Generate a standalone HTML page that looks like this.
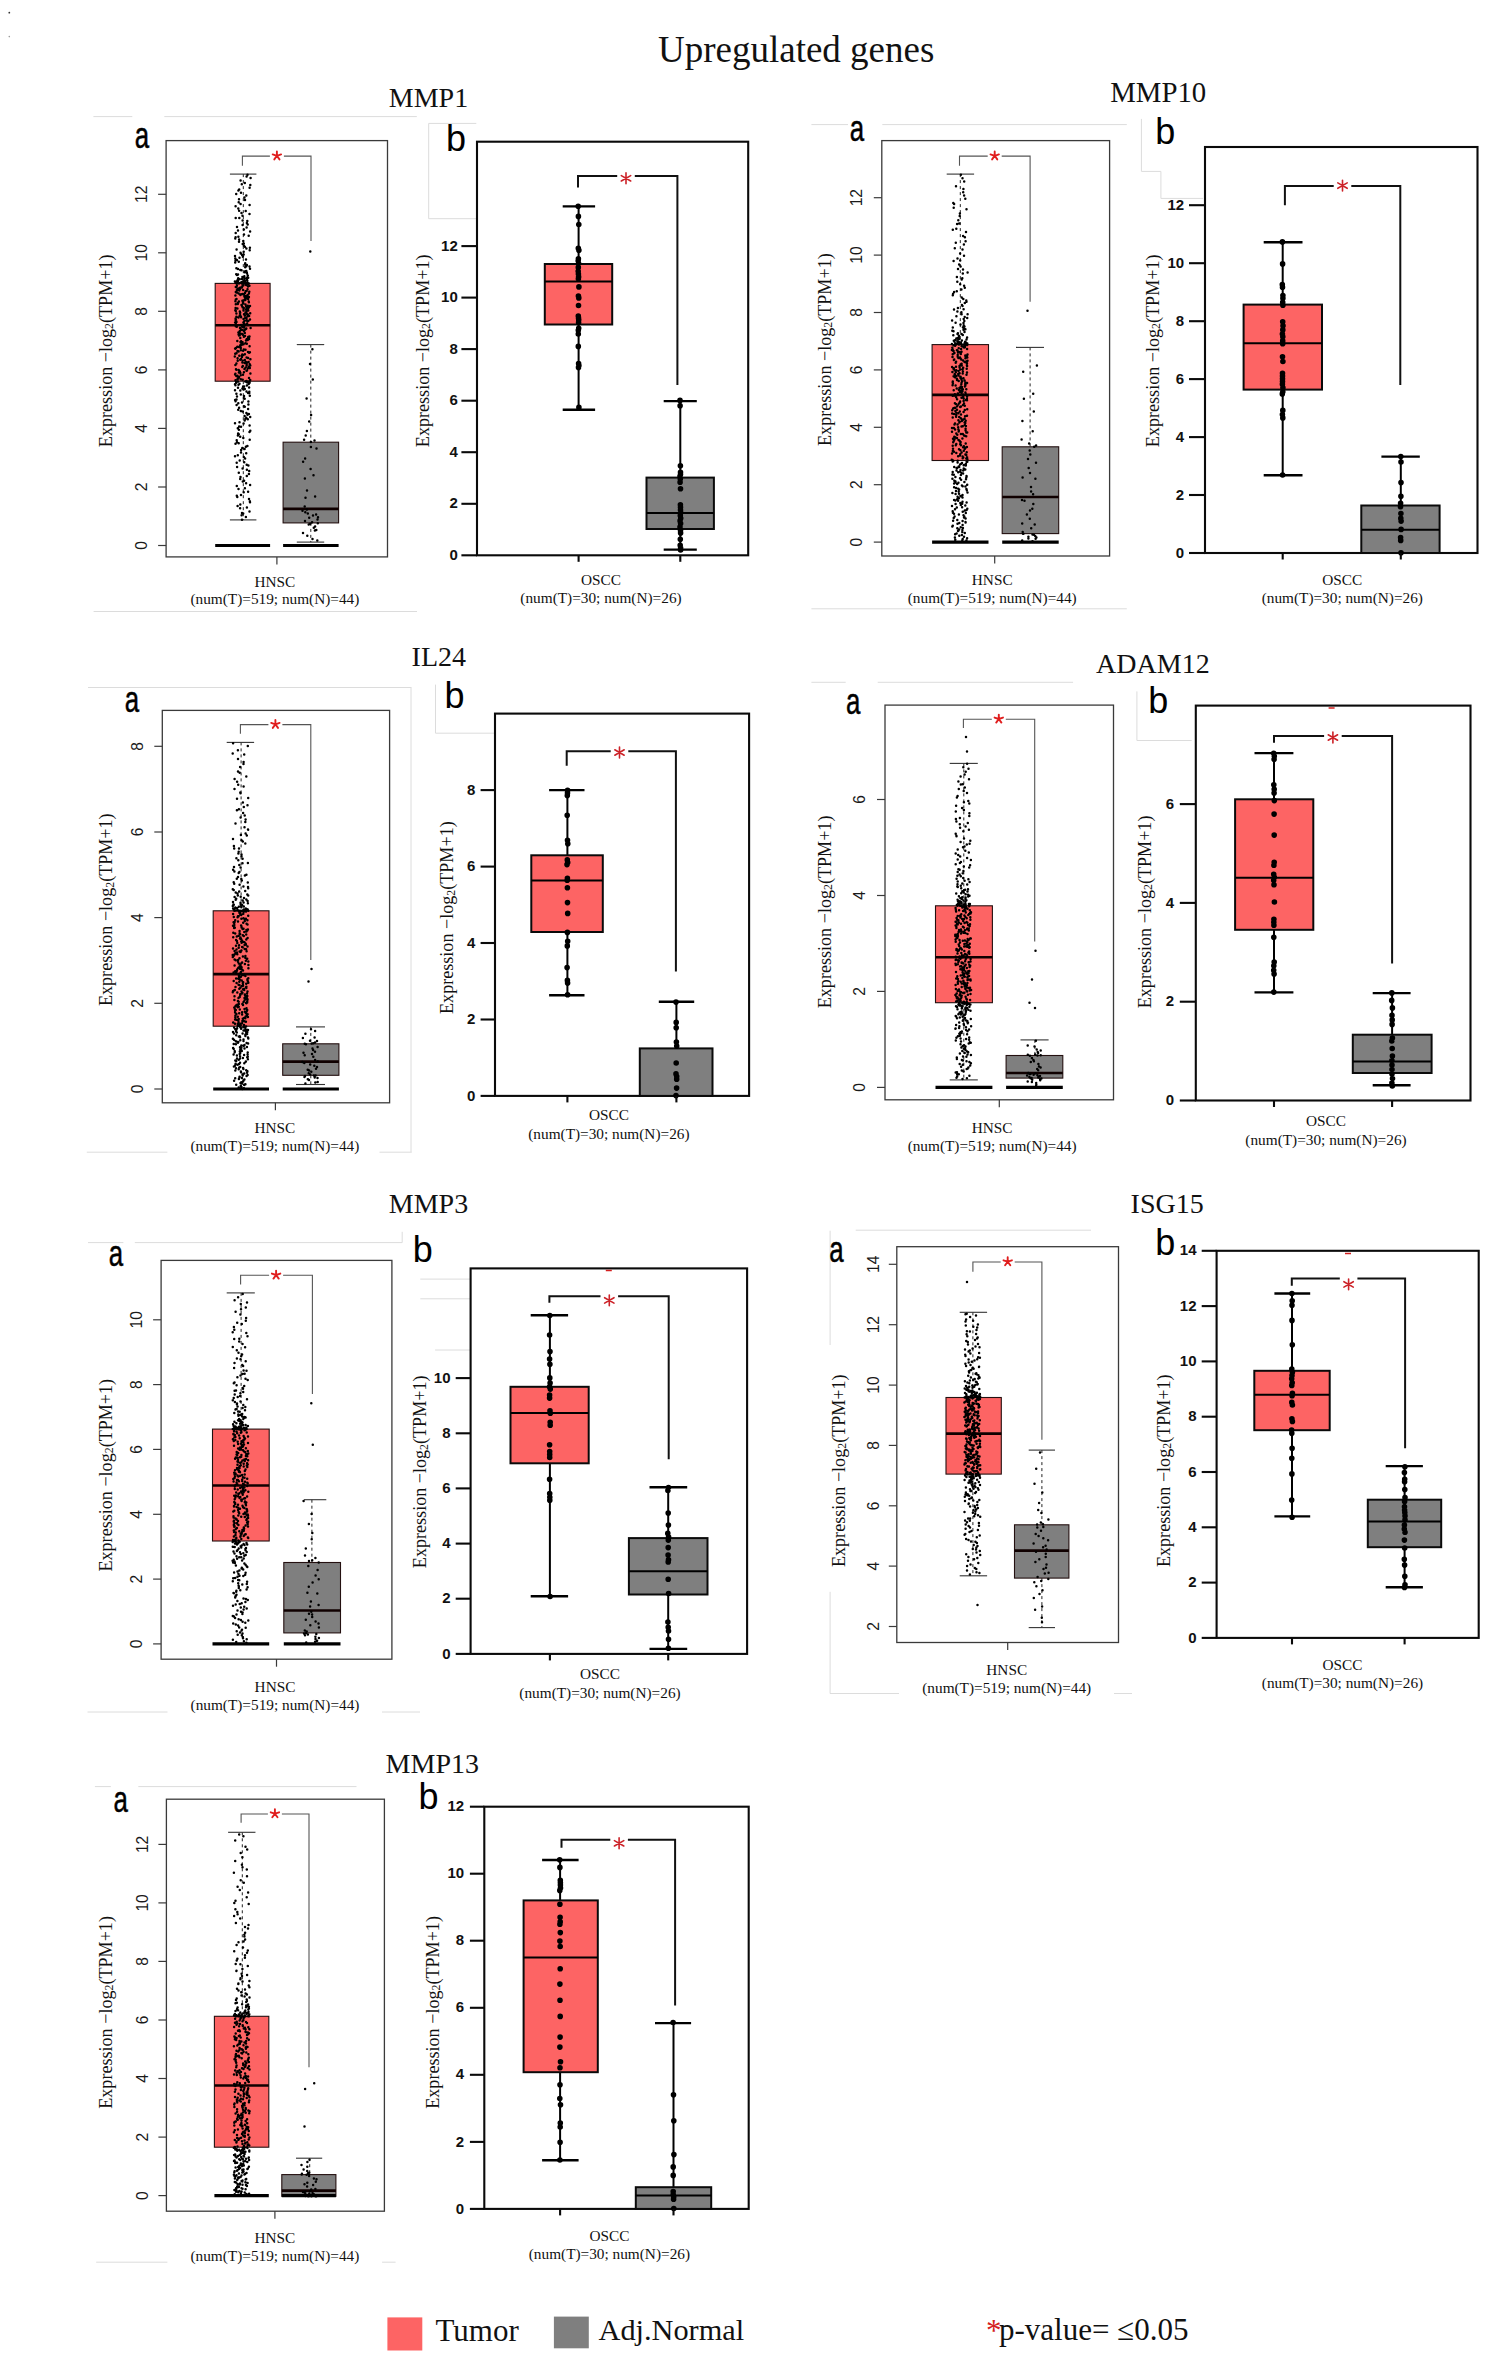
<!DOCTYPE html>
<html><head><meta charset="utf-8"><title>Upregulated genes</title>
<style>html,body{margin:0;padding:0;background:#fff;}svg{display:block;}</style></head>
<body>
<svg width="1490" height="2363" viewBox="0 0 1490 2363">
<rect width="1490" height="2363" fill="#fff"/>
<circle cx="9.3" cy="12.7" r="0.9" fill="#333"/><circle cx="9.3" cy="36.6" r="0.8" fill="#999"/>
<text x="658" y="62.1" font-family="Liberation Serif" font-size="37" text-anchor="start" font-weight="normal" fill="#111" >Upregulated genes</text>
<text x="388.8" y="107.2" font-family="Liberation Serif" font-size="28" text-anchor="start" font-weight="normal" fill="#111" >MMP1</text>
<text x="1110.2" y="102.2" font-family="Liberation Serif" font-size="28.8" text-anchor="start" font-weight="normal" fill="#111" >MMP10</text>
<text x="411.6" y="666.2" font-family="Liberation Serif" font-size="28" text-anchor="start" font-weight="normal" fill="#111" >IL24</text>
<text x="1096.1" y="673" font-family="Liberation Serif" font-size="28" text-anchor="start" font-weight="normal" fill="#111" >ADAM12</text>
<text x="388.8" y="1212.8" font-family="Liberation Serif" font-size="28" text-anchor="start" font-weight="normal" fill="#111" >MMP3</text>
<text x="1130.6" y="1213" font-family="Liberation Serif" font-size="28" text-anchor="start" font-weight="normal" fill="#111" >ISG15</text>
<text x="385.6" y="1772.8" font-family="Liberation Serif" font-size="28" text-anchor="start" font-weight="normal" fill="#111" >MMP13</text>
<line x1="93.4" y1="116.6" x2="132.3" y2="116.6" stroke="#dcdcdc" stroke-width="1"/>
<line x1="164.3" y1="116.6" x2="416.8" y2="116.6" stroke="#dcdcdc" stroke-width="1"/>
<line x1="93.6" y1="611.5" x2="417" y2="611.5" stroke="#dcdcdc" stroke-width="1"/>
<text transform="translate(134.8 148.2) scale(0.70 1)" x="0" y="0" font-family="Liberation Sans" font-size="37" fill="#000" stroke="#000" stroke-width="0.5">a</text>
<rect x="166.1" y="140.6" width="221.4" height="416.3" fill="none" stroke="#3a3a3a" stroke-width="1.3"/>
<line x1="158.1" y1="545.5" x2="166.1" y2="545.5" stroke="#3a3a3a" stroke-width="1.2" />
<text transform="translate(141.9 545.5) rotate(-90)" font-family="Liberation Sans" font-size="15.6" text-anchor="middle" dominant-baseline="central" fill="#1a1a1a">0</text>
<line x1="158.1" y1="487" x2="166.1" y2="487" stroke="#3a3a3a" stroke-width="1.2" />
<text transform="translate(141.9 487) rotate(-90)" font-family="Liberation Sans" font-size="15.6" text-anchor="middle" dominant-baseline="central" fill="#1a1a1a">2</text>
<line x1="158.1" y1="428.4" x2="166.1" y2="428.4" stroke="#3a3a3a" stroke-width="1.2" />
<text transform="translate(141.9 428.4) rotate(-90)" font-family="Liberation Sans" font-size="15.6" text-anchor="middle" dominant-baseline="central" fill="#1a1a1a">4</text>
<line x1="158.1" y1="369.9" x2="166.1" y2="369.9" stroke="#3a3a3a" stroke-width="1.2" />
<text transform="translate(141.9 369.9) rotate(-90)" font-family="Liberation Sans" font-size="15.6" text-anchor="middle" dominant-baseline="central" fill="#1a1a1a">6</text>
<line x1="158.1" y1="311.3" x2="166.1" y2="311.3" stroke="#3a3a3a" stroke-width="1.2" />
<text transform="translate(141.9 311.3) rotate(-90)" font-family="Liberation Sans" font-size="15.6" text-anchor="middle" dominant-baseline="central" fill="#1a1a1a">8</text>
<line x1="158.1" y1="252.8" x2="166.1" y2="252.8" stroke="#3a3a3a" stroke-width="1.2" />
<text transform="translate(141.9 252.8) rotate(-90)" font-family="Liberation Sans" font-size="15.6" text-anchor="middle" dominant-baseline="central" fill="#1a1a1a">10</text>
<line x1="158.1" y1="194.3" x2="166.1" y2="194.3" stroke="#3a3a3a" stroke-width="1.2" />
<text transform="translate(141.9 194.3) rotate(-90)" font-family="Liberation Sans" font-size="15.6" text-anchor="middle" dominant-baseline="central" fill="#1a1a1a">12</text>
<text transform="translate(106 350.8) rotate(-90)" font-family="Liberation Serif" font-size="18.1" text-anchor="middle" dominant-baseline="central" fill="#111">Expression −log<tspan font-size="11.8" dy="3.3">2</tspan><tspan dy="-3.3">(TPM+1)</tspan></text>
<line x1="243.3" y1="174.1" x2="243.3" y2="283.4" stroke="#222" stroke-width="1" stroke-dasharray="3 3"/>
<line x1="243.3" y1="381.2" x2="243.3" y2="519.9" stroke="#222" stroke-width="1" stroke-dasharray="3 3"/>
<line x1="229.9" y1="174.1" x2="256.4" y2="174.1" stroke="#333" stroke-width="1.1" />
<line x1="229.9" y1="519.9" x2="256.4" y2="519.9" stroke="#333" stroke-width="1.1" />
<rect x="215.2" y="283.4" width="54.9" height="97.8" fill="#fd6464" stroke="#241010" stroke-width="1.1"/>
<line x1="215.2" y1="325.2" x2="270.1" y2="325.2" stroke="#100000" stroke-width="2.6" />
<line x1="215.2" y1="545.5" x2="270.1" y2="545.5" stroke="#000" stroke-width="3.2" />
<path d="M242 519.7h0M245.9 516.9h0M241.6 515.3h0M243.2 513.5h0M242 513h0M249.5 511.4h0M240.1 508.2h0M246.9 507.6h0M237.6 506.1h0M240.3 504.5h0M250 502.2h0M249.9 501.2h0M249 499.1h0M237.3 497h0M236.8 495.7h0M241 495.1h0M243.7 492.3h0M248.1 491.7h0M238.5 489h0M244.9 488.2h0M236.8 485.9h0M250.1 484.9h0M246.1 483.3h0M242.8 481.5h0M244.1 480.8h0M240.2 478.9h0M240.5 476.9h0M246.8 476h0M248.9 474h0M238.8 472.8h0M249.2 471h0M246.9 469.8h0M242.6 468.6h0M237.1 467.1h0M248.4 465.5h0M246.7 464.8h0M236.7 462.7h0M244.2 462.2h0M239.7 460.6h0M245.1 458.6h0M243.8 457.1h0M235 456.3h0M237.8 455.2h0M246.2 453.3h0M241 452.4h0M241.1 450.1h0M244.6 449.1h0M242.3 447.9h0M245.9 446.7h0M247.4 445.9h0M235.5 443.7h0M238.7 443.3h0M237 442.2h0M236.7 440.3h0M249.7 439.7h0M243.3 438.1h0M240.2 436.8h0M237.9 435.6h0M238.8 434.3h0M238.1 433.6h0M249.5 432.1h0M250.3 430.7h0M238.9 429.8h0M237.8 428.3h0M241 426.8h0M239.1 426.5h0M249.6 425.4h0M243.6 423.5h0M235 423.2h0M239.5 422.3h0M244.7 420.6h0M247.8 419.3h0M245.4 418.8h0M246.3 417.7h0M250.2 416.9h0M244.6 416.1h0M247.5 414.7h0M248.9 413.9h0M246.4 413.1h0M242.8 411.4h0M240.8 411h0M238.2 409.7h0M248.1 409.1h0M239.1 407.8h0M244.8 406.8h0M244 406.3h0M236.6 405h0M248.4 404.4h0M238.3 403.3h0M242 402.6h0M248.4 401.5h0M235.5 401.2h0M235.1 400.1h0M236.5 399.5h0M244.7 398.8h0M243.8 398h0M237 396.6h0M244 396h0M249.8 395.7h0M240.8 394.5h0M236.4 393.7h0M248.1 393.1h0M249.3 392.9h0M249.3 391.8h0M246.5 391.4h0M240.3 390.5h0M235 390.3h0M243.5 389.5h0M244.8 389.1h0M242.4 388.6h0M238 387.7h0M249.1 387.5h0M244.1 386.5h0M243.1 386.4h0M246.9 385.5h0M235.4 385.2h0M238.5 384.8h0M235 384.2h0M248.7 384.1h0M239.5 383.7h0M248.7 383.3h0M249.6 382.8h0M236.2 382.7h0M246.9 382.3h0M249.6 382h0M236.1 381.7h0M238 381.6h0M245.3 381.4h0M246.8 381.3h0M249.2 381.2h0M246.5 381h0M235.5 380.3h0M250.2 380h0M242.7 379.8h0M240.8 379.2h0M237.6 378.9h0M238.2 378.4h0M249 377.9h0M238.9 377.2h0M239 377.2h0M237.6 376.4h0M236.3 376.1h0M237.5 375.8h0M240.7 375.2h0M243 374.7h0M235.1 374.4h0M235.4 373.8h0M250.4 373.5h0M240.4 373h0M238.9 372.5h0M243.9 372.2h0M239.4 371.7h0M239.9 371.4h0M246.5 370.8h0M247 370.6h0M238.7 370h0M236.3 369.7h0M236 369.3h0M244.5 369h0M248 368.2h0M249.8 368h0M245.7 367.6h0M242.3 367h0M248.9 366.6h0M242.8 366.1h0M246.6 365.6h0M250.3 365.4h0M235.4 364.9h0M249.7 364.3h0M246.7 364h0M236.4 363.5h0M244.7 363.1h0M242.4 362.5h0M247 362.4h0M248.6 361.9h0M245.6 361.7h0M237.7 360.8h0M242.6 360.8h0M244.8 360.1h0M240.2 359.7h0M250.4 359.2h0M241 358.9h0M237.6 358.2h0M248.1 358h0M246.6 357.4h0M241.9 357.1h0M234.8 356.5h0M241.9 356.3h0M239.3 355.7h0M241.9 355.5h0M243.2 354.9h0M242.3 354.4h0M244.9 354.2h0M235.2 353.7h0M236.5 353.3h0M249.1 352.8h0M249.9 352.3h0M248 352.1h0M238.6 351.4h0M237.5 351.1h0M243.1 350.7h0M240.9 350.3h0M245.5 349.7h0M243.8 349.5h0M235.3 348.8h0M235.1 348.4h0M240.8 348.1h0M236 347.9h0M239 347.1h0M237.4 346.8h0M249.6 346.3h0M240.6 345.8h0M240.3 345.3h0M241.5 345.1h0M240.9 344.4h0M243.4 344.3h0M246.8 343.7h0M245.4 343.2h0M241.7 342.9h0M242.6 342.3h0M240.5 341.9h0M241 341.8h0M241.1 341.2h0M237.3 340.9h0M246 340.5h0M247.7 339.9h0M246.7 339.3h0M249.1 338.9h0M247.8 338.4h0M240.3 338h0M248.9 337.5h0M248.2 337.1h0M243.9 336.7h0M249.5 336.4h0M245 336.1h0M239 335.4h0M239.7 335.3h0M242.8 334.7h0M238.6 334.4h0M242.2 334h0M240.4 333.6h0M244.8 333.1h0M238.4 332.5h0M239.3 331.9h0M239.5 331.5h0M244.1 331.2h0M240.1 330.8h0M244.6 330.3h0M242.4 329.9h0M241.2 329.6h0M246 329h0M246.3 328.4h0M240 328h0M250.6 327.9h0M244 327.4h0M236.8 326.8h0M242.2 326.7h0M235.8 326.2h0M243.5 325.5h0M244.9 325.2h0M241.1 324.9h0M245 324.6h0M243.9 324.2h0M243.8 323.9h0M247.1 323.7h0M235.9 323.1h0M243.8 322.9h0M235.1 322.5h0M243.4 322.5h0M236.5 322h0M236.3 321.6h0M247.4 321.2h0M248.3 320.9h0M244.5 320.8h0M246.7 320.5h0M235.6 320.1h0M235.8 319.6h0M250 319.4h0M243.5 319.1h0M246.5 318.7h0M235.6 318.4h0M246.3 318h0M245.3 317.8h0M238.5 317.5h0M241.1 317.3h0M236.4 316.8h0M240.9 316.6h0M247.6 316.3h0M249.1 316h0M239.7 315.5h0M244.8 315.4h0M240.1 315h0M247.9 314.4h0M244 314.2h0M246.6 313.9h0M236.4 313.5h0M250.2 313.2h0M240 312.9h0M240.2 312.8h0M245.5 312.5h0M246.4 312h0M239.8 311.6h0M246.5 311.3h0M235.8 311h0M243.5 310.6h0M248.3 310.4h0M235.3 310.2h0M246.1 309.7h0M243.6 309.4h0M247.8 309h0M246.4 308.7h0M237.4 308.4h0M235.6 308h0M243.8 307.9h0M248.8 307.5h0M242.6 307.2h0M248.1 306.9h0M246.1 306.6h0M241.9 306.1h0M250 306h0M247.8 305.7h0M241.6 305.3h0M241.5 304.9h0M245.5 304.6h0M235.8 304.2h0M237.8 304h0M243.3 303.5h0M238.1 303.1h0M243 302.9h0M237.8 302.7h0M248.9 302.3h0M243 302h0M238.9 301.5h0M248.7 301.4h0M235.4 301.2h0M242.4 300.7h0M243.8 300.3h0M245.3 300.1h0M244.7 299.8h0M235.8 299.5h0M248.1 299h0M236.5 298.9h0M246 298.4h0M248.2 298.2h0M247.8 297.7h0M247.6 297.4h0M244.9 297.3h0M248.9 297h0M244.4 296.4h0M245.7 296.2h0M245.7 295.9h0M235.4 295.4h0M247.5 295.3h0M240.4 295h0M243.8 294.5h0M241.1 294.3h0M242.8 294h0M238.7 293.5h0M248.9 293.4h0M245 293h0M236.4 292.5h0M237 292.4h0M235.8 292.1h0M249.3 291.8h0M245.6 291.2h0M246.6 291h0M239.3 290.6h0M236.8 290.3h0M243.1 290.1h0M238.1 289.7h0M237.4 289.5h0M247.5 289.2h0M240 288.9h0M237.8 288.4h0M239.9 288h0M239.8 287.9h0M241.9 287.5h0M241.4 287.2h0M235.8 287h0M248 286.4h0M242.5 286.1h0M236.9 285.7h0M249.4 285.7h0M243.4 285.2h0M246.1 284.9h0M246.5 284.6h0M247.3 284.3h0M247.9 283.9h0M236.8 283.6h0M245.4 283.4h0M241.8 283.4h0M248.8 283.4h0M239 283.4h0M237.1 283.3h0M244 283.3h0M243.2 283.2h0M236.4 283.2h0M237.1 283.1h0M242.1 283.1h0M239.4 283h0M235.6 282.9h0M247.4 282.7h0M236 282.7h0M244.4 282.5h0M245.3 282.4h0M241.3 282.3h0M236.2 282.1h0M243.7 282h0M242.8 281.8h0M236.5 281.6h0M234.9 281.4h0M244.9 281.1h0M237.9 281h0M247.3 280.7h0M237.7 280.4h0M244 280.2h0M237.7 279.8h0M247 279.7h0M239.6 279.2h0M241.9 279h0M244.7 278.8h0M238.2 278.2h0M248.2 277.8h0M246.8 277.7h0M244.2 277.1h0M242.4 276.9h0M244.3 276.2h0M247.7 275.8h0M247.8 275.5h0M237 275.1h0M238 274.6h0M236.2 274.2h0M247 273.6h0M246.8 272.9h0M246.8 272.5h0M244.5 272.2h0M245.2 271.3h0M246.3 271.1h0M241.5 270.2h0M240.3 270h0M238 269.1h0M250 268.8h0M236.4 268.3h0M245.2 267.2h0M249.5 266.4h0M246.4 266.2h0M245.4 265.5h0M246.9 264.9h0M245.1 264.1h0M245.2 263.2h0M235.2 262.5h0M238.8 261.8h0M235.5 260.5h0M236.9 259.9h0M246 259.4h0M235.3 258.4h0M239.5 257.8h0M242.9 256.7h0M235 256h0M242.1 255.1h0M243.7 254.5h0M240.8 253.6h0M240.5 252.7h0M243.7 251.8h0M249.7 250.3h0M236.6 249.6h0M246.4 248.6h0M249.9 247.7h0M244.9 246.7h0M243.9 245.8h0M242.7 244.1h0M243.8 243.5h0M239 241.7h0M243.3 240.9h0M239.1 239.5h0M235.3 238.5h0M235.6 237.2h0M238.4 236.8h0M248.7 235.7h0M244 234.6h0M235.7 232.9h0M250.1 231.5h0M238 230.5h0M243.9 229.5h0M246.6 227.4h0M237 227h0M242.6 225.1h0M247.7 224.4h0M246.9 223h0M247.3 221.1h0M242.6 220.4h0M239.3 218.1h0M235.7 217.9h0M242.5 215.7h0M249.5 214.1h0M241.5 212.9h0M245.7 210.9h0M239.1 210.7h0M238.3 208.4h0M235.6 206.3h0M249.6 204.9h0M240.6 204.1h0M238.7 202.2h0M245 200h0M239 199.2h0M244.4 197.4h0M246.3 195.6h0M236.2 193.9h0M241 192.7h0M238.4 190.4h0M239.2 189.5h0M249.6 187.8h0M250.3 185.1h0M241.8 184.3h0M244.8 183.1h0M240.6 180.6h0M250.6 178h0M246.6 176.5h0M247.5 174.7h0" stroke="#000" stroke-width="2.5" stroke-linecap="round" fill="none"/>
<line x1="310.8" y1="344.6" x2="310.8" y2="442.2" stroke="#222" stroke-width="1" stroke-dasharray="3 3"/>
<line x1="310.8" y1="522.9" x2="310.8" y2="542.1" stroke="#222" stroke-width="1" stroke-dasharray="3 3"/>
<line x1="296.8" y1="344.6" x2="324.2" y2="344.6" stroke="#333" stroke-width="1.1" />
<line x1="296.8" y1="542.1" x2="324.2" y2="542.1" stroke="#333" stroke-width="1.1" />
<rect x="283.1" y="442.2" width="55.5" height="80.7" fill="#7f7f7f" stroke="#241010" stroke-width="1.1"/>
<line x1="283.1" y1="508.9" x2="338.6" y2="508.9" stroke="#100000" stroke-width="2.6" />
<line x1="283.1" y1="545.5" x2="338.6" y2="545.5" stroke="#000" stroke-width="3.2" />
<path d="M317.3 540.5h0M312.5 538.9h0M307.3 535.7h0M303 532.9h0M314.9 530.4h0M316.3 529.9h0M313.8 527.7h0M315.1 526.6h0M308.7 524.4h0M310.3 523.8h0M317.8 523.2h0M312.1 522.3h0M305 520.9h0M317.5 519.5h0M309.2 517.8h0M318 517.2h0M313 515.5h0M316.1 514.4h0M307.8 513.6h0M305.3 512.3h0M302.5 510.7h0M306.9 509.4h0M304.7 506.4h0M305.5 497.8h0M315.1 496.5h0M307 490.5h0M304.9 478.6h0M313.5 475.3h0M310.6 469.1h0M303.1 461.8h0M305.1 458.5h0M316.5 448.4h0M310.9 447h0M310.9 441.9h0M314.5 440.5h0M304.1 439.8h0M305.7 435.6h0M306.9 431h0M309.2 421.5h0M311.1 414.9h0M306.6 398.6h0M312.8 379.6h0M310 364h0M312.4 349.3h0M310.3 251.4h0" stroke="#000" stroke-width="2.5" stroke-linecap="round" fill="none"/>
<path d="M242.4 165.7V156.1H269.9 M283.9 156.1H311V241.1" stroke="#555" stroke-width="1.1" fill="none"/>
<path d="M276.9 155.8L276.9 151.4M276.9 155.8L272.7 154.4M276.9 155.8L274.3 159.4M276.9 155.8L279.5 159.4M276.9 155.8L281.1 154.4" stroke="#e01e1e" stroke-width="1.9" stroke-linecap="round" fill="none"/>
<line x1="276.9" y1="556.9" x2="276.9" y2="564.4" stroke="#3a3a3a" stroke-width="1.2" />
<text x="274.9" y="586.5" font-family="Liberation Serif" font-size="15.3" text-anchor="middle" font-weight="normal" fill="#111" >HNSC</text><text x="274.9" y="604.4" font-family="Liberation Serif" font-size="15.3" text-anchor="middle" font-weight="normal" fill="#111" >(num(T)=519; num(N)=44)</text>
<line x1="811.4" y1="124.6" x2="848" y2="124.6" stroke="#dcdcdc" stroke-width="1"/>
<line x1="882.3" y1="124.6" x2="1126.8" y2="124.6" stroke="#dcdcdc" stroke-width="1"/>
<line x1="811.4" y1="608.8" x2="1126.8" y2="608.8" stroke="#dcdcdc" stroke-width="1"/>
<text transform="translate(849.8 141.4) scale(0.70 1)" x="0" y="0" font-family="Liberation Sans" font-size="37" fill="#000" stroke="#000" stroke-width="0.5">a</text>
<rect x="881.8" y="140.6" width="227.8" height="415.4" fill="none" stroke="#3a3a3a" stroke-width="1.3"/>
<line x1="873.8" y1="542.1" x2="881.8" y2="542.1" stroke="#3a3a3a" stroke-width="1.2" />
<text transform="translate(856.5 542.1) rotate(-90)" font-family="Liberation Sans" font-size="15.6" text-anchor="middle" dominant-baseline="central" fill="#1a1a1a">0</text>
<line x1="873.8" y1="484.7" x2="881.8" y2="484.7" stroke="#3a3a3a" stroke-width="1.2" />
<text transform="translate(856.5 484.7) rotate(-90)" font-family="Liberation Sans" font-size="15.6" text-anchor="middle" dominant-baseline="central" fill="#1a1a1a">2</text>
<line x1="873.8" y1="427.3" x2="881.8" y2="427.3" stroke="#3a3a3a" stroke-width="1.2" />
<text transform="translate(856.5 427.3) rotate(-90)" font-family="Liberation Sans" font-size="15.6" text-anchor="middle" dominant-baseline="central" fill="#1a1a1a">4</text>
<line x1="873.8" y1="369.9" x2="881.8" y2="369.9" stroke="#3a3a3a" stroke-width="1.2" />
<text transform="translate(856.5 369.9) rotate(-90)" font-family="Liberation Sans" font-size="15.6" text-anchor="middle" dominant-baseline="central" fill="#1a1a1a">6</text>
<line x1="873.8" y1="312.5" x2="881.8" y2="312.5" stroke="#3a3a3a" stroke-width="1.2" />
<text transform="translate(856.5 312.5) rotate(-90)" font-family="Liberation Sans" font-size="15.6" text-anchor="middle" dominant-baseline="central" fill="#1a1a1a">8</text>
<line x1="873.8" y1="255.1" x2="881.8" y2="255.1" stroke="#3a3a3a" stroke-width="1.2" />
<text transform="translate(856.5 255.1) rotate(-90)" font-family="Liberation Sans" font-size="15.6" text-anchor="middle" dominant-baseline="central" fill="#1a1a1a">10</text>
<line x1="873.8" y1="197.7" x2="881.8" y2="197.7" stroke="#3a3a3a" stroke-width="1.2" />
<text transform="translate(856.5 197.7) rotate(-90)" font-family="Liberation Sans" font-size="15.6" text-anchor="middle" dominant-baseline="central" fill="#1a1a1a">12</text>
<text transform="translate(825.1 349.6) rotate(-90)" font-family="Liberation Serif" font-size="18.1" text-anchor="middle" dominant-baseline="central" fill="#111">Expression −log<tspan font-size="11.8" dy="3.3">2</tspan><tspan dy="-3.3">(TPM+1)</tspan></text>
<line x1="960.3" y1="174.1" x2="960.3" y2="344.6" stroke="#222" stroke-width="1" stroke-dasharray="3 3"/>
<line x1="946.7" y1="174.1" x2="974.1" y2="174.1" stroke="#333" stroke-width="1.1" />
<rect x="932.1" y="344.6" width="56.4" height="115.9" fill="#fd6464" stroke="#241010" stroke-width="1.1"/>
<line x1="932.1" y1="394.9" x2="988.5" y2="394.9" stroke="#100000" stroke-width="2.6" />
<line x1="932.1" y1="542.1" x2="988.5" y2="542.1" stroke="#000" stroke-width="3.2" />
<path d="M954.9 541.7h0M966.4 540.6h0M962.3 540.2h0M955.3 539.7h0M962.7 538.9h0M967.1 538.2h0M954.9 537.5h0M964 536.8h0M959.3 535.8h0M961.9 535.1h0M955.1 534.3h0M956.6 533.6h0M964.8 533h0M962.3 531.9h0M958 531h0M958.5 530.6h0M962.4 529.9h0M959.1 529.4h0M957.3 528.3h0M962.9 528h0M960.7 527.2h0M952.3 526.4h0M952.8 525.7h0M962.6 525h0M957.5 523.8h0M959.3 523.1h0M965.6 522.5h0M965.5 521.9h0M962.6 521h0M953.1 520.7h0M957.3 520h0M965.6 518.6h0M953.7 518h0M964 517.4h0M964.3 516.6h0M954.6 516.4h0M963.5 515.2h0M958.9 514.4h0M954 513.7h0M965.8 513h0M952.9 512.7h0M962.7 511.8h0M952.7 511.3h0M964.8 510.6h0M966.6 510.1h0M955 509.3h0M967.3 508.7h0M956.8 507.4h0M962.1 507.3h0M952 506.1h0M965.3 505.6h0M960.8 505h0M955.6 504.1h0M962.2 503.8h0M960.3 502.9h0M966.6 502.4h0M962.5 501.7h0M958.1 500.7h0M955.3 500.5h0M954.1 499.9h0M957.2 499.2h0M958.9 498.3h0M962.5 497.5h0M957.6 496.8h0M960.5 496.2h0M960.4 495.9h0M962.5 495.1h0M955.6 494.1h0M959 493.7h0M952.4 493.1h0M967.5 492.6h0M958.7 491.6h0M956 491h0M966.8 490.3h0M959.1 489.6h0M966.4 488.9h0M958.3 488.8h0M956.1 487.9h0M954.1 487.2h0M965.4 486.5h0M962.7 486.3h0M961.9 485.5h0M967.2 484.7h0M957.2 484h0M954.1 483.4h0M958.4 482.8h0M955.6 482.5h0M964.4 481.9h0M955.5 481.4h0M954.3 480.7h0M961.1 479.8h0M966 479.2h0M952.4 478.8h0M960 478.3h0M966.3 477.5h0M955.4 477h0M966.6 476.4h0M966.5 475.9h0M960.9 475.1h0M953.8 474.7h0M952.4 474.4h0M963.1 473.5h0M961.3 472.8h0M958.2 472.2h0M952.7 472.1h0M960.2 471.5h0M956.5 470.6h0M963.2 470.5h0M960.6 469.9h0M965.3 469.5h0M963.7 468.6h0M957.1 468h0M956.6 468h0M959.2 467h0M954.2 466.9h0M958.7 466.4h0M965.8 465.6h0M963.7 465.2h0M964.1 465h0M960.1 464.5h0M965.9 464.1h0M961.2 463.7h0M962 463h0M957.6 462.6h0M966.6 462.1h0M967.3 461.8h0M952.7 461.4h0M953.2 461.1h0M957.7 460.8h0M952.5 460.4h0M952.5 459.9h0M951.8 459.8h0M967.4 459.3h0M966.3 458.4h0M962.7 458.3h0M963.3 457.4h0M967.1 457.2h0M962.6 456.5h0M958.1 456.2h0M960 455.4h0M966.3 455.1h0M965.4 454.6h0M960.2 454.3h0M952 453.4h0M956.3 452.9h0M961.6 452.5h0M966.7 452.2h0M954 451.7h0M952.8 451h0M963.8 450.7h0M960.4 450.2h0M959 449.3h0M964.9 448.8h0M953 448.7h0M965.5 447.8h0M963.1 447.3h0M966.9 447h0M963.9 446.3h0M952.7 445.8h0M961 445.3h0M955.8 445.2h0M960.2 444.3h0M956.3 443.9h0M965.7 443.4h0M960.5 442.7h0M953.2 442.3h0M960.6 442.1h0M953.7 441.2h0M959.7 441.1h0M954 440.5h0M958.5 440.1h0M954.5 439.2h0M953 438.7h0M962.4 438.5h0M956.9 438.1h0M955.4 437.5h0M954.3 436.7h0M966.2 436.2h0M965.4 436h0M964 435.4h0M957.3 434.8h0M962.8 434.1h0M960.9 433.9h0M956.3 433.4h0M967.2 432.6h0M966.3 432.5h0M952 431.7h0M958.7 431.5h0M965.6 430.6h0M958.8 430.4h0M955.1 429.6h0M958.4 429.5h0M965.6 428.7h0M952 428.1h0M953.8 427.9h0M958.2 427.2h0M961.5 426.5h0M962.7 426.2h0M965.9 425.9h0M964.8 425.1h0M954.5 424.6h0M957.6 424.4h0M955 423.6h0M965.3 423h0M959.4 422.6h0M964.6 422.4h0M959.6 421.9h0M961.8 421.1h0M965.7 420.8h0M958.4 420.3h0M962.9 419.7h0M961.9 419.4h0M964.5 418.7h0M960.8 418.2h0M952.7 417.4h0M959.2 417h0M956.1 416.7h0M965.1 416.3h0M967 415.8h0M956.3 415.1h0M961 414.5h0M954.1 413.9h0M952.2 413.5h0M958.4 413.3h0M956.3 412.7h0M963.6 412.1h0M959.8 411.6h0M955.4 410.9h0M952.2 410.3h0M964.8 410.1h0M957 409.7h0M967.2 409.2h0M953.1 408.4h0M954.2 408h0M955.3 407.8h0M960.2 406.9h0M961 406.6h0M957.2 406.2h0M964.8 405.7h0M963.1 405.1h0M958.4 404.6h0M955.9 404h0M964 403.5h0M954.9 403.2h0M959.5 402.7h0M960 402.2h0M960.1 401.6h0M963.6 401.1h0M967 400.3h0M965.9 400h0M957.1 399.3h0M966.9 398.7h0M963.7 398.6h0M961.5 397.8h0M956.2 397.3h0M963.2 396.8h0M967.1 396.6h0M952.7 395.8h0M954.5 395.6h0M963.2 394.8h0M965.8 394.3h0M954.9 394.2h0M958 393.9h0M957.8 393.4h0M961.5 392.8h0M965.4 392.5h0M959.9 392.1h0M960.3 391.8h0M962.4 391.4h0M962.5 390.9h0M960.7 390.7h0M953.7 390.3h0M958.9 390h0M962.9 389.3h0M966.3 389.3h0M961.3 388.6h0M956.7 388.5h0M959.4 388h0M961.8 387.7h0M961.9 387.1h0M960.6 386.8h0M964.9 386.5h0M965.3 385.8h0M955.6 385.5h0M952.6 385.3h0M965.4 384.7h0M961.3 384.3h0M965.2 383.9h0M952.9 383.8h0M967.1 383.1h0M961.6 382.8h0M965.4 382.5h0M952.7 382.2h0M952.8 381.6h0M962.1 381.2h0M958.7 381.1h0M964.6 380.6h0M957 380.1h0M957.2 379.9h0M961.4 379.4h0M956.9 378.8h0M961.7 378.8h0M963.5 378.3h0M960.4 377.8h0M954.9 377.3h0M954.7 377h0M960.6 376.7h0M953.6 376.3h0M956.2 375.9h0M958.5 375.6h0M955.1 375.2h0M966.5 374.7h0M954.6 374.2h0M958.2 374.1h0M962.7 373.5h0M959.6 373.2h0M967 372.6h0M955.8 372.3h0M952.4 371.9h0M962.9 371.5h0M958.5 371.1h0M955.8 370.8h0M954.6 370.3h0M956.2 370.3h0M960.3 369.6h0M962.6 369.2h0M966.7 368.8h0M953.5 368.7h0M953.9 368.2h0M963.2 367.7h0M959.6 367.5h0M952.1 367.1h0M956 366.7h0M967.1 366.1h0M959.5 366h0M961.7 365.5h0M966.9 365.2h0M960.9 364.7h0M960.7 364.3h0M961.6 363.7h0M966.8 363.6h0M967 363.2h0M955.7 362.7h0M965.5 362.1h0M964.6 361.9h0M956.1 361.7h0M966.7 361.2h0M967.5 360.8h0M963.1 360.4h0M953.9 359.9h0M961.2 359.5h0M954.2 359.4h0M960.7 358.7h0M965.4 358.3h0M958.4 358.1h0M967.3 357.6h0M960 357.4h0M952.5 357.1h0M957.7 356.7h0M965.4 356.1h0M967 355.6h0M965.3 355.5h0M957.7 355h0M967.5 354.6h0M952.7 354.2h0M960.8 353.9h0M954.2 353.3h0M954.4 353.1h0M958 352.6h0M959.8 352.3h0M961.5 351.8h0M958.2 351.4h0M953.6 350.9h0M953.3 350.9h0M956.9 350.3h0M951.9 350h0M952.7 349.4h0M967.1 349.1h0M961.1 348.9h0M958.7 348.2h0M952.3 347.8h0M964.1 347.6h0M964.9 347.2h0M965 346.6h0M962.7 346.4h0M961.6 345.9h0M955.1 345.8h0M953.6 345.2h0M967.2 345h0M967.4 344.6h0M964.2 344.6h0M955.5 344.6h0M955.3 344.6h0M961.4 344.6h0M959 344.6h0M965.7 344.5h0M965 344.5h0M966.6 344.5h0M956.1 344.4h0M955.9 344.4h0M966.9 344.3h0M954.9 344.2h0M961.7 344.2h0M951.9 344.1h0M964.4 344h0M957.1 343.8h0M967.3 343.6h0M955.4 343.6h0M957.2 343.4h0M964.5 343.3h0M959.6 343h0M960.9 342.8h0M959.9 342.6h0M966 342.4h0M959.3 342.2h0M965.1 341.8h0M954.3 341.6h0M957.6 341.5h0M957.4 341.2h0M953.8 340.8h0M961.9 340.5h0M955.3 339.9h0M958.3 339.6h0M966.5 339.5h0M959.4 339h0M956.3 338.6h0M957.8 338h0M967.1 337.5h0M958.9 336.9h0M959 336.3h0M958.9 335.8h0M953.3 335.2h0M962.8 335h0M957.5 334.1h0M961.5 333.9h0M957.9 333.2h0M964.5 332.1h0M953.5 331.3h0M952.3 330.7h0M963.5 329.8h0M965.4 329.2h0M963.8 328.3h0M952.8 327.4h0M962.9 327.3h0M964.5 326.4h0M963.7 325.3h0M960.5 324.6h0M963.5 323.1h0M955.6 322.7h0M964.3 321h0M952.1 320.4h0M963.7 319.1h0M967.2 318.1h0M964.7 317h0M956.4 316.3h0M967.6 314.3h0M961.6 314.2h0M961.4 312.3h0M957.4 311.4h0M954 309.5h0M963.6 309.3h0M957.9 308h0M962.5 306h0M961.9 305h0M964.8 303h0M966.5 301.8h0M966.3 300.4h0M963.3 299h0M961.7 297.6h0M952.8 295.3h0M953.1 293.7h0M954.1 292h0M956.8 291.3h0M961.4 289.5h0M964.8 287.7h0M964.1 285.8h0M960.2 284.2h0M957.3 281.8h0M961.7 279.6h0M962.3 278.2h0M956.9 276.9h0M962.8 273.6h0M967.6 272.4h0M963 269.4h0M958 269.1h0M960.6 266.4h0M959.1 264.5h0M953.6 261h0M960.2 260.6h0M957.5 258.5h0M964 255.7h0M960.1 253.6h0M962.5 249.6h0M954.8 248.3h0M963.9 244.6h0M955.8 242.7h0M965.6 241.3h0M964.9 237.3h0M963.1 236.1h0M966 232.1h0M952.8 229.7h0M956.3 228.8h0M957.1 224.1h0M959.2 223.4h0M958.3 220.3h0M959.7 215.9h0M959.9 213.5h0M966.5 209.3h0M953.7 207.7h0M954.1 204.1h0M953.3 203.1h0M965.3 198.7h0M964.1 195.4h0M963.2 192.2h0M963.4 189h0M956 186.3h0M964.2 181.5h0M962.5 178.2h0M960.9 174.8h0" stroke="#000" stroke-width="2.5" stroke-linecap="round" fill="none"/>
<line x1="1030.1" y1="347.4" x2="1030.1" y2="446.8" stroke="#222" stroke-width="1" stroke-dasharray="3 3"/>
<line x1="1016" y1="347.4" x2="1044" y2="347.4" stroke="#333" stroke-width="1.1" />
<rect x="1002.2" y="446.8" width="56.5" height="86.8" fill="#7f7f7f" stroke="#241010" stroke-width="1.1"/>
<line x1="1002.2" y1="497" x2="1058.7" y2="497" stroke="#100000" stroke-width="2.6" />
<line x1="1002.2" y1="542.1" x2="1058.7" y2="542.1" stroke="#000" stroke-width="3.2" />
<path d="M1032.5 541.3h0M1022.2 540.4h0M1035.6 538.8h0M1028.4 538.4h0M1036.4 537.6h0M1028.4 536.8h0M1035.2 536h0M1033.8 534.8h0M1032.5 534.4h0M1023 533.8h0M1023.4 533.7h0M1022.7 532h0M1031.2 528.2h0M1034.7 524.6h0M1022.2 523.4h0M1029.8 518.8h0M1026.9 514.6h0M1030 510.5h0M1032.3 508.7h0M1033.3 504h0M1024.5 500.7h0M1022 500h0M1033.1 494.3h0M1031.1 491.5h0M1031 486.9h0M1035.4 478.8h0M1022.6 477.5h0M1030 473.1h0M1028.7 468.1h0M1036 462.7h0M1028 458.9h0M1030.3 454.5h0M1029.7 450.6h0M1034.2 446.7h0M1036.1 445.5h0M1029.1 443.5h0M1021.6 439.5h0M1032.7 431.3h0M1022.4 420.9h0M1033.8 411.6h0M1023.9 398.8h0M1033.2 393.8h0M1023.2 371.8h0M1036.9 365.5h0M1027.5 310.8h0" stroke="#000" stroke-width="2.5" stroke-linecap="round" fill="none"/>
<path d="M959.5 165.7V156.1H987.7 M1001.7 156.1H1030.1V301.7" stroke="#555" stroke-width="1.1" fill="none"/>
<path d="M994.7 155.8L994.7 151.4M994.7 155.8L990.5 154.4M994.7 155.8L992.1 159.4M994.7 155.8L997.3 159.4M994.7 155.8L998.9 154.4" stroke="#e01e1e" stroke-width="1.9" stroke-linecap="round" fill="none"/>
<line x1="994.7" y1="556" x2="994.7" y2="563.5" stroke="#3a3a3a" stroke-width="1.2" />
<text x="992.2" y="585" font-family="Liberation Serif" font-size="15.3" text-anchor="middle" font-weight="normal" fill="#111" >HNSC</text><text x="992.2" y="602.5" font-family="Liberation Serif" font-size="15.3" text-anchor="middle" font-weight="normal" fill="#111" >(num(T)=519; num(N)=44)</text>
<line x1="88" y1="687.5" x2="411.4" y2="687.5" stroke="#dcdcdc" stroke-width="1"/>
<line x1="411" y1="687.5" x2="411" y2="1152.2" stroke="#dcdcdc" stroke-width="1"/>
<line x1="86.8" y1="1152.2" x2="167.4" y2="1152.2" stroke="#dcdcdc" stroke-width="1"/>
<line x1="379.5" y1="1152.2" x2="411.7" y2="1152.2" stroke="#dcdcdc" stroke-width="1"/>
<text transform="translate(124.8 711.6) scale(0.70 1)" x="0" y="0" font-family="Liberation Sans" font-size="37" fill="#000" stroke="#000" stroke-width="0.5">a</text>
<rect x="162.3" y="710.4" width="227.3" height="392.4" fill="none" stroke="#3a3a3a" stroke-width="1.3"/>
<line x1="154.3" y1="1089" x2="162.3" y2="1089" stroke="#3a3a3a" stroke-width="1.2" />
<text transform="translate(137.6 1089) rotate(-90)" font-family="Liberation Sans" font-size="15.6" text-anchor="middle" dominant-baseline="central" fill="#1a1a1a">0</text>
<line x1="154.3" y1="1003.3" x2="162.3" y2="1003.3" stroke="#3a3a3a" stroke-width="1.2" />
<text transform="translate(137.6 1003.3) rotate(-90)" font-family="Liberation Sans" font-size="15.6" text-anchor="middle" dominant-baseline="central" fill="#1a1a1a">2</text>
<line x1="154.3" y1="917.6" x2="162.3" y2="917.6" stroke="#3a3a3a" stroke-width="1.2" />
<text transform="translate(137.6 917.6) rotate(-90)" font-family="Liberation Sans" font-size="15.6" text-anchor="middle" dominant-baseline="central" fill="#1a1a1a">4</text>
<line x1="154.3" y1="832" x2="162.3" y2="832" stroke="#3a3a3a" stroke-width="1.2" />
<text transform="translate(137.6 832) rotate(-90)" font-family="Liberation Sans" font-size="15.6" text-anchor="middle" dominant-baseline="central" fill="#1a1a1a">6</text>
<line x1="154.3" y1="746.3" x2="162.3" y2="746.3" stroke="#3a3a3a" stroke-width="1.2" />
<text transform="translate(137.6 746.3) rotate(-90)" font-family="Liberation Sans" font-size="15.6" text-anchor="middle" dominant-baseline="central" fill="#1a1a1a">8</text>
<text transform="translate(106.3 909.7) rotate(-90)" font-family="Liberation Serif" font-size="18.1" text-anchor="middle" dominant-baseline="central" fill="#111">Expression −log<tspan font-size="11.8" dy="3.3">2</tspan><tspan dy="-3.3">(TPM+1)</tspan></text>
<line x1="241.1" y1="742.4" x2="241.1" y2="910.8" stroke="#222" stroke-width="1" stroke-dasharray="3 3"/>
<line x1="226.7" y1="742.4" x2="254.1" y2="742.4" stroke="#333" stroke-width="1.1" />
<rect x="213.2" y="910.8" width="55.8" height="115.4" fill="#fd6464" stroke="#241010" stroke-width="1.1"/>
<line x1="213.2" y1="974.1" x2="269" y2="974.1" stroke="#100000" stroke-width="2.6" />
<line x1="213.2" y1="1089" x2="269" y2="1089" stroke="#000" stroke-width="3.2" />
<path d="M242.3 1088.9h0M243.9 1088.3h0M238.7 1087.5h0M241.5 1086.9h0M241 1086.7h0M240.8 1085.8h0M244.2 1085h0M236.2 1084.7h0M245.4 1084.3h0M242.2 1083.4h0M240.5 1083h0M241 1082.5h0M242.4 1082h0M243.2 1081.2h0M234.1 1080.8h0M243.5 1080.2h0M244.4 1079.5h0M238.9 1079h0M235.2 1078.2h0M241.9 1078h0M239.4 1077.2h0M239.6 1076.7h0M246.6 1076.1h0M242.7 1075.4h0M247.6 1075.1h0M242.5 1074.5h0M243.4 1073.7h0M244.3 1073.4h0M247.1 1072.8h0M241 1072.2h0M240.9 1071.5h0M247.4 1071.2h0M235.3 1070.4h0M246.2 1070.3h0M238.7 1069.3h0M243.4 1069.1h0M236 1068.2h0M243.1 1067.9h0M239.2 1067.5h0M240.2 1067h0M233.9 1066.4h0M235 1065.8h0M235 1065.4h0M237.6 1064.7h0M239.1 1064h0M235.6 1063.7h0M244.3 1063.2h0M240 1062.7h0M245.7 1061.8h0M245.9 1061.5h0M236.2 1060.9h0M235.3 1060.6h0M238.8 1059.8h0M247.9 1059.2h0M240 1058.6h0M237 1058.6h0M242.9 1058h0M247.2 1057.2h0M247.8 1056.7h0M240.1 1056.2h0M236.9 1055.6h0M244.1 1055.1h0M233.6 1054.6h0M247.6 1054.4h0M239.7 1053.9h0M240.2 1053.2h0M247.7 1052.5h0M234.7 1052.3h0M239.8 1051.5h0M234.8 1051.3h0M241.8 1051h0M241.4 1050.3h0M240.3 1049.5h0M233.7 1049h0M244.5 1048.6h0M233.1 1048h0M241.4 1047.8h0M240 1047.2h0M246.9 1046.9h0M243.7 1046.1h0M241.3 1045.6h0M243.6 1045.6h0M244.5 1045.1h0M235.9 1044.3h0M233.7 1044.1h0M248.1 1043.6h0M246.6 1043.1h0M238 1042.7h0M238.3 1042.1h0M236.4 1041.4h0M235.8 1041.2h0M243.5 1040.9h0M240.3 1040.3h0M234 1039.7h0M243.5 1039.5h0M232.9 1038.7h0M248.3 1038.5h0M248.2 1037.9h0M248 1037.6h0M240.1 1037.3h0M238.8 1036.6h0M239.7 1036.3h0M245.4 1035.9h0M236.2 1035.2h0M245.3 1035.1h0M245.5 1034.5h0M247.1 1034.1h0M242.6 1033.6h0M233.9 1033.5h0M246.2 1032.8h0M236.8 1032.4h0M247.3 1032.1h0M233 1031.9h0M236.1 1031.5h0M245.6 1030.9h0M243.5 1030.5h0M248 1030.1h0M247.2 1029.9h0M236.5 1029.5h0M235.3 1029.2h0M245.4 1028.9h0M241.1 1028.7h0M237.1 1028.2h0M240.9 1028h0M234.1 1027.6h0M243.3 1027.3h0M245 1027.1h0M240 1026.8h0M246.1 1026.5h0M244.2 1026.1h0M237.7 1026h0M240.7 1025.4h0M244 1025h0M238.7 1024.8h0M237.8 1024.1h0M235 1023.8h0M240.5 1023.7h0M242 1023.2h0M233.2 1022.6h0M238.5 1022.3h0M245.9 1021.7h0M244.3 1021.3h0M242.4 1021.1h0M238.4 1020.7h0M242.9 1020.4h0M236.4 1019.7h0M235.1 1019.5h0M238.7 1019.1h0M242.8 1018.8h0M245.3 1018.3h0M244.2 1018h0M235.3 1017.3h0M247.9 1017.1h0M237.8 1016.7h0M245.7 1016.4h0M246.5 1015.9h0M235.4 1015.4h0M246.8 1014.9h0M242.1 1014.6h0M247.6 1014.2h0M236.4 1014h0M239.2 1013.3h0M245.8 1012.9h0M235.1 1012.6h0M242.1 1012.2h0M244.9 1011.8h0M246.7 1011.5h0M235.1 1011h0M235.3 1010.5h0M247.2 1010.1h0M235.8 1010h0M239.8 1009.4h0M244.5 1009.1h0M234.7 1008.7h0M246.5 1008.2h0M234.3 1007.6h0M237.7 1007.3h0M238.8 1006.8h0M237.8 1006.8h0M235.4 1006.2h0M237.8 1005.7h0M236.3 1005.3h0M243 1005h0M237.2 1004.7h0M238.8 1004.1h0M242.4 1003.9h0M246.3 1003.3h0M246.1 1003h0M247.2 1002.5h0M243.6 1002h0M238.7 1001.7h0M247.2 1001.6h0M237.9 1001h0M244.5 1000.6h0M234.4 1000.1h0M247.5 999.7h0M247.5 999.2h0M246.6 999h0M246 998.6h0M238.5 998h0M244.5 997.9h0M246.9 997.2h0M239.7 997h0M246.1 996.7h0M234.5 996.3h0M247.3 995.9h0M245.1 995.4h0M240.2 995.2h0M244.8 994.5h0M240.2 994.3h0M247 993.6h0M241.9 993.5h0M242.4 992.8h0M237.3 992.5h0M232.8 992.2h0M241.5 991.6h0M247.5 991.5h0M233.1 991.1h0M233.9 990.5h0M234.8 990.1h0M244.2 990h0M243 989.3h0M243.9 988.9h0M239.3 988.7h0M246.3 988.1h0M240.3 987.7h0M245.9 987.2h0M235.5 987h0M246.4 986.7h0M241.7 986.3h0M243 985.7h0M243 985.2h0M239.4 985.1h0M238.6 984.7h0M242.9 984h0M246.2 983.7h0M236.6 983.1h0M242.8 982.9h0M248.3 982.7h0M243.2 982.2h0M239.3 981.8h0M247.9 981.5h0M233.7 981.1h0M241.7 980.4h0M247.5 980.2h0M239.7 979.6h0M247.4 979.2h0M238.4 978.8h0M236.1 978.4h0M248.3 978.2h0M238.9 977.6h0M239.5 977.3h0M240.9 976.8h0M239.2 976.5h0M245.4 976h0M238.9 975.8h0M244.1 975.1h0M242.5 974.9h0M241.6 974.6h0M239.6 974h0M239.4 973.7h0M236.1 973.1h0M233.6 972.5h0M240.9 972h0M236.6 971.8h0M235.2 971.3h0M237 970.4h0M243 970.4h0M237.1 969.5h0M241.8 969.4h0M239.9 968.8h0M248.4 968.2h0M238.3 967.8h0M241.6 967.2h0M239.5 966.6h0M240.7 966.2h0M240.3 965.8h0M234.6 965.5h0M248.4 964.9h0M240.5 964.3h0M244.9 963.9h0M238.8 963.4h0M241.6 963h0M242.1 962.4h0M238 961.7h0M248.3 961.4h0M245.9 960.8h0M235.7 960.3h0M238.1 959.9h0M234.6 959.5h0M247.2 958.8h0M239.5 958.3h0M245.3 957.8h0M245.3 957.5h0M232.8 956.9h0M242.9 956.5h0M245.4 956.1h0M234 955.4h0M232.7 955.1h0M234.4 954.6h0M237.3 954.3h0M235.4 953.5h0M235.5 952.9h0M236.9 952.5h0M240.6 952h0M239.6 951.5h0M246.6 951.3h0M234.6 950.9h0M241.4 950.4h0M236.5 949.6h0M246.1 949.2h0M244.7 949h0M233 948.4h0M238.7 947.8h0M242.7 947.3h0M242.1 947h0M247.5 946.5h0M236 945.8h0M239.1 945.3h0M244.6 945h0M245.9 944.4h0M245.7 943.7h0M237.3 943.1h0M241.6 942.8h0M244.4 942.3h0M242.9 941.8h0M241.2 941.4h0M236.9 941.1h0M242 940.6h0M236.1 939.9h0M246.3 939.5h0M241.1 939.1h0M240 938.5h0M247.6 938.1h0M240.5 937.5h0M233.2 937.2h0M236.8 936.5h0M243.8 936h0M238.6 935.8h0M242.9 935.2h0M246.2 934.6h0M240.2 934.3h0M235.2 933.5h0M239.6 933.3h0M233.3 932.8h0M244.3 932h0M246.4 931.6h0M239.6 931.1h0M247.3 930.6h0M246.4 930h0M247.9 929.6h0M242.6 929h0M243.5 928.8h0M234.1 928h0M234.8 927.8h0M241.6 927.5h0M234.2 926.9h0M241.4 926.3h0M233 925.8h0M241.1 925.5h0M234.3 925h0M247.5 924.4h0M246.6 923.7h0M234.2 923.2h0M243.2 922.8h0M233.6 922.2h0M234.6 922.1h0M238 921.4h0M244.8 921h0M247.4 920.2h0M235.2 920.2h0M244.8 919.5h0M245.9 918.8h0M241.4 918.7h0M243.5 918.2h0M237.6 917.3h0M233.8 917.1h0M238 916.3h0M238.6 916.2h0M248.2 915.7h0M241.2 914.9h0M240.3 914.6h0M233.1 913.9h0M243.3 913.7h0M240.5 913.2h0M239.4 912.8h0M243.6 911.9h0M246 911.6h0M243.8 911.3h0M238.5 910.8h0M242.2 910.8h0M234.4 910.8h0M243.7 910.8h0M248.3 910.8h0M238.4 910.7h0M240.4 910.7h0M244.6 910.6h0M238.6 910.6h0M235.5 910.5h0M238.1 910.4h0M243.3 910.4h0M237.3 910.3h0M246.3 910.1h0M247.7 909.9h0M245.3 909.9h0M243.8 909.6h0M233.7 909.4h0M247.7 909.4h0M234.4 909h0M246.4 908.9h0M233.1 908.6h0M245.8 908.4h0M237.1 908.2h0M235.5 907.7h0M235.3 907.5h0M241.3 907.3h0M238.8 906.7h0M243.8 906.6h0M232.8 906h0M240.9 905.6h0M242.1 905.1h0M233.8 904.8h0M233.4 904.4h0M240.6 904.1h0M247.9 903.2h0M240.5 902.7h0M243.6 902.4h0M233 901.9h0M247.6 901.1h0M242.7 900.4h0M235.7 899.8h0M246.3 899.6h0M236.2 898.7h0M244 898h0M234.6 897.1h0M240.7 896.8h0M248.2 895.6h0M237.8 895.4h0M247.3 894.4h0M237.5 893.4h0M235.7 892.6h0M239.2 891.5h0M245.2 890.9h0M233.7 890h0M232.8 889.2h0M248.2 888.2h0M248 886.9h0M243.4 886.5h0M239.6 884.8h0M234.2 883.7h0M247.8 882.6h0M233.7 882.2h0M241.8 880.4h0M241.3 879.1h0M236.8 878.8h0M238 877h0M244.9 875.4h0M246.4 874.7h0M238.7 873.1h0M239.4 872h0M234.4 871.5h0M233.1 869.8h0M240.6 867.6h0M234 867h0M239.3 865h0M242.5 863.2h0M247.9 862.9h0M238.3 860.2h0M242.6 858.8h0M236.4 858.3h0M241.5 856.3h0M241.5 854.4h0M238.4 853.5h0M238.7 851.7h0M234.2 848.5h0M239 848.5h0M233.9 846h0M245.3 843.4h0M242.8 841.6h0M241.5 840.3h0M233 839.1h0M246.8 835.6h0M240.9 835h0M245.6 833.4h0M248.1 829.8h0M248 829.4h0M244.5 827.3h0M235.5 823.4h0M245.3 822.1h0M245.6 819.5h0M240.6 817.6h0M244.7 815.6h0M243.1 812.9h0M236.9 810.3h0M238.9 809.3h0M243.8 807.1h0M247.5 805.3h0M242.9 802.6h0M237 798.7h0M248.2 798h0M240.5 793.3h0M240.3 792.5h0M234.5 789h0M243.6 786.4h0M238.2 784.8h0M237.1 781.7h0M234.6 778.9h0M246.3 776.5h0M239.7 772.8h0M238 771.5h0M240.1 767.1h0M243.5 764.1h0M243.6 761.9h0M238 759h0M244.2 754.6h0M232.7 753.5h0M237.9 750.2h0M247.8 745.9h0M233.1 743.3h0" stroke="#000" stroke-width="2.5" stroke-linecap="round" fill="none"/>
<line x1="310.8" y1="1026.9" x2="310.8" y2="1043.8" stroke="#222" stroke-width="1" stroke-dasharray="3 3"/>
<line x1="310.8" y1="1075.3" x2="310.8" y2="1084.5" stroke="#222" stroke-width="1" stroke-dasharray="3 3"/>
<line x1="296" y1="1026.9" x2="325" y2="1026.9" stroke="#333" stroke-width="1.1" />
<line x1="296" y1="1084.5" x2="325" y2="1084.5" stroke="#333" stroke-width="1.1" />
<rect x="282.7" y="1043.8" width="56.2" height="31.5" fill="#7f7f7f" stroke="#241010" stroke-width="1.1"/>
<line x1="282.7" y1="1061.6" x2="338.9" y2="1061.6" stroke="#100000" stroke-width="2.6" />
<line x1="282.7" y1="1089" x2="338.9" y2="1089" stroke="#000" stroke-width="3.2" />
<path d="M305.4 1083.6h0M315.3 1082.5h0M317.7 1081.9h0M309 1079.9h0M307.8 1079.2h0M317.5 1078h0M314.7 1077.5h0M304.5 1077h0M305 1075.9h0M313.9 1075.6h0M315.6 1075.5h0M310.2 1074.6h0M308.7 1073.2h0M311.3 1071.7h0M309.1 1070.6h0M307.7 1069.8h0M316 1068.8h0M317 1067.1h0M314.3 1065.8h0M310.2 1064.6h0M304.3 1063h0M302.4 1062.1h0M317.8 1061.4h0M315.1 1059.9h0M313.3 1056.8h0M304.7 1055.2h0M312 1054h0M303.5 1052.7h0M315 1051.8h0M313.1 1050h0M312.5 1048.4h0M317.6 1046.9h0M305.9 1044.3h0M304.8 1043.7h0M311.6 1043.6h0M313.2 1043.3h0M315 1042.6h0M317 1040.9h0M310 1040.7h0M302.9 1038.1h0M314.6 1037.5h0M305.4 1033.7h0M315.1 1030.9h0M311 1029.2h0M311.5 969.1h0M308.5 981.6h0" stroke="#000" stroke-width="2.5" stroke-linecap="round" fill="none"/>
<path d="M240.4 733.7V724.6H268.4 M282.4 724.6H310.8V959.9" stroke="#555" stroke-width="1.1" fill="none"/>
<path d="M275.4 724.3L275.4 719.9M275.4 724.3L271.2 722.9M275.4 724.3L272.8 727.9M275.4 724.3L278 727.9M275.4 724.3L279.6 722.9" stroke="#e01e1e" stroke-width="1.9" stroke-linecap="round" fill="none"/>
<line x1="275.4" y1="1102.8" x2="275.4" y2="1110.3" stroke="#3a3a3a" stroke-width="1.2" />
<text x="274.9" y="1133.2" font-family="Liberation Serif" font-size="15.3" text-anchor="middle" font-weight="normal" fill="#111" >HNSC</text><text x="274.9" y="1151.3" font-family="Liberation Serif" font-size="15.3" text-anchor="middle" font-weight="normal" fill="#111" >(num(T)=519; num(N)=44)</text>
<line x1="811.4" y1="682.3" x2="845.7" y2="682.3" stroke="#dcdcdc" stroke-width="1"/>
<line x1="877.7" y1="682.3" x2="1073.1" y2="682.3" stroke="#dcdcdc" stroke-width="1"/>
<text transform="translate(845.9 713.9) scale(0.70 1)" x="0" y="0" font-family="Liberation Sans" font-size="37" fill="#000" stroke="#000" stroke-width="0.5">a</text>
<rect x="885" y="705.1" width="228.5" height="394.7" fill="none" stroke="#3a3a3a" stroke-width="1.3"/>
<line x1="877" y1="1087.4" x2="885" y2="1087.4" stroke="#3a3a3a" stroke-width="1.2" />
<text transform="translate(859.5 1087.4) rotate(-90)" font-family="Liberation Sans" font-size="15.6" text-anchor="middle" dominant-baseline="central" fill="#1a1a1a">0</text>
<line x1="877" y1="991.4" x2="885" y2="991.4" stroke="#3a3a3a" stroke-width="1.2" />
<text transform="translate(859.5 991.4) rotate(-90)" font-family="Liberation Sans" font-size="15.6" text-anchor="middle" dominant-baseline="central" fill="#1a1a1a">2</text>
<line x1="877" y1="895.5" x2="885" y2="895.5" stroke="#3a3a3a" stroke-width="1.2" />
<text transform="translate(859.5 895.5) rotate(-90)" font-family="Liberation Sans" font-size="15.6" text-anchor="middle" dominant-baseline="central" fill="#1a1a1a">4</text>
<line x1="877" y1="799.5" x2="885" y2="799.5" stroke="#3a3a3a" stroke-width="1.2" />
<text transform="translate(859.5 799.5) rotate(-90)" font-family="Liberation Sans" font-size="15.6" text-anchor="middle" dominant-baseline="central" fill="#1a1a1a">6</text>
<text transform="translate(825.1 911.9) rotate(-90)" font-family="Liberation Serif" font-size="18.1" text-anchor="middle" dominant-baseline="central" fill="#111">Expression −log<tspan font-size="11.8" dy="3.3">2</tspan><tspan dy="-3.3">(TPM+1)</tspan></text>
<line x1="963.8" y1="763.4" x2="963.8" y2="905.8" stroke="#222" stroke-width="1" stroke-dasharray="3 3"/>
<line x1="963.8" y1="1002.7" x2="963.8" y2="1079.9" stroke="#222" stroke-width="1" stroke-dasharray="3 3"/>
<line x1="949.7" y1="763.4" x2="977.8" y2="763.4" stroke="#333" stroke-width="1.1" />
<line x1="949.7" y1="1079.9" x2="977.8" y2="1079.9" stroke="#333" stroke-width="1.1" />
<rect x="935.5" y="905.8" width="56.9" height="96.9" fill="#fd6464" stroke="#241010" stroke-width="1.1"/>
<line x1="935.5" y1="957.2" x2="992.4" y2="957.2" stroke="#100000" stroke-width="2.6" />
<line x1="935.5" y1="1087.4" x2="992.4" y2="1087.4" stroke="#000" stroke-width="3.2" />
<path d="M962.5 1079h0M966.9 1078.3h0M956.5 1077.8h0M957.2 1076.5h0M969.4 1075.8h0M957.2 1074.4h0M958.8 1074.2h0M955.7 1072.6h0M957 1072.2h0M963.6 1071.4h0M961.8 1070.4h0M966.7 1069h0M967.7 1068.4h0M968.4 1067.4h0M961.1 1066.8h0M970.2 1065.6h0M962.8 1064.7h0M959.7 1064.1h0M970.9 1063.3h0M969.4 1061.9h0M966.5 1061.3h0M962.9 1060.6h0M961.9 1059.9h0M956.9 1059h0M956.8 1057.6h0M966.4 1056.8h0M963 1056.6h0M970.9 1055h0M967.5 1054.6h0M959.9 1053.6h0M964.7 1052.9h0M968.2 1052.3h0M967.1 1051.4h0M962.3 1050.9h0M965.5 1050.1h0M963.9 1048.7h0M965.1 1048.2h0M961.4 1047.6h0M965.5 1046.6h0M962.8 1046h0M964.1 1045.3h0M960.5 1044.2h0M968.7 1043.5h0M970.8 1042.8h0M969.8 1042.3h0M961 1041.6h0M955.8 1040.4h0M969.1 1039.8h0M966.1 1038.9h0M960.6 1038.6h0M956.4 1037.7h0M969.2 1037.4h0M957.9 1036.3h0M959.9 1035.7h0M959.8 1034.7h0M967.1 1034.2h0M959.3 1033.7h0M961.6 1032.9h0M960.5 1032.2h0M961.9 1031.4h0M967.5 1031.2h0M966.1 1030.1h0M969.1 1029.6h0M955.4 1028.8h0M955.6 1028.4h0M959.1 1027.9h0M966 1027.2h0M959.4 1026.3h0M971.1 1026.2h0M964 1025.2h0M956.1 1025h0M963.7 1023.9h0M967.7 1023.3h0M968 1022.8h0M959.2 1022.5h0M967.4 1021.9h0M967.3 1021.1h0M962.8 1020.7h0M965.8 1020.3h0M963.4 1019.5h0M970.8 1019h0M957 1018.3h0M965 1018.1h0M959.8 1017.4h0M962.6 1016.8h0M956.1 1016.4h0M955.7 1016.1h0M963.5 1015.4h0M964.9 1014.8h0M960.9 1014.6h0M958.4 1014.2h0M965.6 1013.8h0M962.5 1013.3h0M959.6 1012.6h0M960.4 1012.3h0M965.8 1011.9h0M961.6 1011.6h0M965.9 1011.2h0M970.5 1010.7h0M965.8 1010.2h0M968.3 1009.8h0M965.4 1009.4h0M957.5 1009.2h0M961.8 1008.6h0M965.3 1008.2h0M967.1 1007.9h0M965.7 1007.5h0M962 1007.2h0M957 1007h0M969.4 1006.7h0M956 1006.3h0M962.6 1006.2h0M961 1005.7h0M959.4 1005.6h0M966.8 1005.1h0M959.6 1004.9h0M958.4 1004.7h0M970.4 1004.5h0M959.9 1004.3h0M969 1004.1h0M964.6 1003.8h0M962.6 1003.6h0M967.6 1003.4h0M959 1003.3h0M962.3 1003.2h0M965.6 1003h0M964.8 1002.9h0M967.1 1002.8h0M965.4 1002.7h0M959 1002.7h0M962.4 1002.6h0M966.8 1002.1h0M963.9 1001.7h0M956.1 1001.5h0M960.3 1001.2h0M957.6 1000.8h0M960.6 1000.4h0M970.1 999.9h0M966.9 999.5h0M959.1 999.5h0M966.3 998.8h0M958.5 998.5h0M956.9 998.3h0M961.1 997.9h0M957.5 997.5h0M961.4 997.3h0M965.6 996.7h0M956.3 996.5h0M961.1 996.1h0M961.7 995.7h0M959.6 995.3h0M955.4 995h0M967.9 994.8h0M960.1 994.2h0M970.5 994.1h0M956.7 993.6h0M964.2 993.1h0M963.3 993h0M964.4 992.7h0M961.2 992.3h0M960.1 991.8h0M967.1 991.5h0M957.7 991.1h0M966.6 990.7h0M969.7 990.6h0M958.1 990.2h0M971.1 989.9h0M959 989.4h0M955.9 989h0M965.3 988.7h0M969.6 988.3h0M968.6 988h0M970 987.7h0M966.8 987.4h0M961.7 986.9h0M966.6 986.5h0M964.6 986.4h0M964.7 986h0M966.4 985.8h0M966.9 985.3h0M955.6 985h0M965.4 984.6h0M963.8 984.1h0M957.9 983.7h0M961.7 983.6h0M967.4 983.1h0M964.8 983h0M963.6 982.5h0M957.8 982.2h0M960.7 981.7h0M963.3 981.2h0M958.3 981.1h0M963.4 980.7h0M970.6 980.4h0M967.5 980h0M968.5 979.6h0M970.5 979.4h0M957.9 978.9h0M956.2 978.6h0M956.8 978.3h0M962.4 978h0M967.3 977.4h0M967.6 977h0M964.8 976.8h0M957.3 976.3h0M963.9 976.1h0M969.1 976h0M960.7 975.4h0M962.8 975h0M964 974.7h0M963.3 974.3h0M967.4 974.2h0M964.3 973.8h0M966.7 973.2h0M968.6 973.1h0M962.6 972.5h0M962.6 972.4h0M956 971.9h0M965.5 971.5h0M968.2 971.3h0M969.4 971h0M962.8 970.4h0M962.4 970.3h0M964 970h0M963.5 969.6h0M960.4 969.2h0M963.7 968.7h0M962.4 968.3h0M966.8 968h0M963.8 967.8h0M963.1 967.5h0M969.6 967h0M960.1 966.5h0M961.2 966.2h0M964.7 966.1h0M970.2 965.7h0M955.8 965.1h0M969.3 964.7h0M965.7 964.7h0M957.8 964.2h0M955.5 963.8h0M963.3 963.6h0M961.7 963.1h0M962.7 962.9h0M961.6 962.4h0M968.6 962.3h0M958.3 961.9h0M970.5 961.5h0M965.1 961.2h0M958.9 960.7h0M958.1 960.3h0M955.7 960.1h0M956.1 959.6h0M965.7 959.3h0M970.6 959.1h0M960.5 958.7h0M959.5 958.1h0M966.3 957.8h0M961.2 957.5h0M962.7 957.3h0M955.7 956.8h0M959.6 956.6h0M967.2 956.2h0M963.4 955.4h0M962 955.3h0M966.7 954.7h0M965.4 954.4h0M965.1 953.9h0M969.3 953.7h0M957.5 953.4h0M961.3 953h0M968.4 952.4h0M969.1 952.1h0M969.1 951.5h0M964.3 951.1h0M957.8 950.9h0M958.8 950.5h0M956.4 950.1h0M961.9 949.5h0M957.3 949.4h0M956.5 948.9h0M960.1 948.4h0M960.7 948h0M969.2 947.7h0M969.7 947.3h0M967.1 946.8h0M964.2 946.4h0M966.1 946.2h0M959.2 945.9h0M968.6 945.2h0M967.7 945.1h0M958.7 944.5h0M964.4 944h0M969.8 943.8h0M966.5 943.5h0M967 942.8h0M960 942.6h0M967.3 942.3h0M955.7 941.8h0M966.8 941.3h0M962.8 940.8h0M964.9 940.5h0M959.5 940.1h0M968.6 939.9h0M955.6 939.5h0M967.7 938.9h0M970.8 938.4h0M970.2 938.4h0M957.4 937.9h0M956.7 937.5h0M957.6 937.2h0M956.3 936.6h0M955.3 936.1h0M957.9 935.9h0M955.3 935.6h0M956.4 935h0M955.3 934.8h0M957.8 934.1h0M967.5 933.9h0M961 933.6h0M965.3 932.9h0M963.5 932.8h0M963.8 932.1h0M958.6 931.9h0M961.5 931.3h0M959.6 931.2h0M968.8 930.6h0M964.9 930.2h0M959 929.9h0M961 929.4h0M967 929.2h0M968.7 928.5h0M967.3 928.4h0M956.4 927.9h0M963.9 927.4h0M956.4 927.1h0M962.9 926.7h0M969.6 926.2h0M969.7 926.1h0M955.6 925.5h0M968.1 925h0M957.7 924.6h0M970 924.2h0M961 923.7h0M957 923.4h0M964.6 923h0M967.4 922.7h0M958.9 922.4h0M966.6 922.1h0M955.6 921.7h0M963.2 921.1h0M957.5 920.6h0M958.4 920.3h0M970.4 919.8h0M957.1 919.4h0M964 919.1h0M962.2 918.9h0M966.7 918.3h0M956.6 918h0M960.4 917.6h0M970.3 917.2h0M965.3 916.7h0M960.7 916.6h0M957.7 915.9h0M959.9 915.8h0M964.4 915.4h0M968.3 914.9h0M961.3 914.3h0M969.1 913.9h0M970.5 913.5h0M970.1 913.1h0M970.9 912.8h0M965.7 912.5h0M971 912.2h0M956.1 911.6h0M965.3 911.1h0M963.1 910.9h0M969.8 910.3h0M959.1 910.2h0M955.8 909.8h0M964.6 909.4h0M967.5 908.8h0M966.4 908.3h0M955.6 907.9h0M962.3 907.5h0M964.7 907.2h0M965.9 906.8h0M963.8 906.6h0M969.1 906.3h0M960.1 905.8h0M960.5 905.8h0M963.8 905.8h0M960.7 905.8h0M969 905.7h0M957.6 905.7h0M969.6 905.6h0M957.7 905.5h0M961.2 905.5h0M968.8 905.4h0M960.1 905.2h0M956.9 905.2h0M965.6 905h0M963.5 904.8h0M956.9 904.7h0M957.9 904.6h0M965.6 904.3h0M968.9 904.1h0M969.9 903.9h0M958.1 903.6h0M965.3 903.4h0M959.4 903.2h0M961.6 903h0M960.7 902.5h0M961.1 902.1h0M960.6 901.9h0M965.5 901.5h0M959.8 901.2h0M957.9 901h0M963.5 900.4h0M966.4 900.2h0M957.6 899.8h0M961.9 899h0M965.5 898.7h0M960.4 898.2h0M965.6 897.5h0M962.2 897.2h0M968.2 896.6h0M958.9 896.2h0M969.5 895.8h0M968 894.7h0M965.6 894.3h0M956.2 893.6h0M961.2 893.2h0M963.7 892.6h0M967.5 891.5h0M962.3 891.2h0M964.2 890.1h0M965.1 889.8h0M968 889.2h0M961.2 888.2h0M957.8 887.1h0M957.3 886.6h0M960.8 885.8h0M967.2 884.5h0M957.5 884.3h0M962.3 883.5h0M969.6 882.1h0M957.7 881.4h0M964.6 880.8h0M968.4 879.3h0M956.6 878.8h0M963.2 877.9h0M960.8 876.2h0M957.4 875.7h0M959.6 874.4h0M962.7 873.2h0M957.7 872.1h0M963.4 871.1h0M959.6 869.8h0M958.4 869.3h0M969.2 867.6h0M963.8 866.5h0M970.1 865.3h0M955.7 864.3h0M959.9 863h0M960.9 862h0M970.9 860h0M957.7 859.6h0M967.1 858h0M960.2 856.6h0M958.2 854.9h0M955.7 853.6h0M968.8 852.5h0M965.3 850.7h0M957.7 849.6h0M963 847.3h0M964.5 846.6h0M966.8 844.4h0M969.6 843.7h0M960.6 841.9h0M970.3 840.8h0M964 838.5h0M956.5 836.3h0M956.4 835.7h0M955.7 833.7h0M963.3 831.3h0M968.9 829.7h0M960.1 827.8h0M965.6 826.6h0M959.8 824.3h0M967.8 823h0M956.4 821.4h0M955.9 819.1h0M959.9 818h0M969.3 816.1h0M969.4 813.2h0M955.8 811.5h0M963.9 810h0M962.1 807.9h0M956.1 805.7h0M969.3 803.6h0M963.9 802.3h0M968.3 801.1h0M956.9 797.5h0M957.6 796.1h0M967 793h0M963.7 791.1h0M958.8 789.1h0M964.8 787.6h0M960.8 784.5h0M962.8 784.2h0M958.4 781.5h0M969 779.3h0M960.6 776.5h0M964.6 774.5h0M965.7 771.7h0M968.5 768.7h0M963.3 767.3h0M967.1 763.8h0M966 737.1h0M967 751.5h0" stroke="#000" stroke-width="2.5" stroke-linecap="round" fill="none"/>
<line x1="1034.9" y1="1039.9" x2="1034.9" y2="1055.5" stroke="#222" stroke-width="1" stroke-dasharray="3 3"/>
<line x1="1020.5" y1="1039.9" x2="1048.6" y2="1039.9" stroke="#333" stroke-width="1.1" />
<rect x="1006.1" y="1055.5" width="56.7" height="22.6" fill="#7f7f7f" stroke="#241010" stroke-width="1.1"/>
<line x1="1006.1" y1="1073" x2="1062.8" y2="1073" stroke="#100000" stroke-width="2.6" />
<line x1="1006.1" y1="1087.4" x2="1062.8" y2="1087.4" stroke="#000" stroke-width="3.2" />
<path d="M1034.5 1087.2h0M1036.2 1085.6h0M1036.3 1084.5h0M1036.2 1083.1h0M1031.9 1081.9h0M1027.7 1081.4h0M1040.2 1080.2h0M1032.2 1079.8h0M1040.1 1079.2h0M1041.4 1078.4h0M1030.6 1078.2h0M1031.6 1077.9h0M1038.3 1077.5h0M1029.4 1076.9h0M1039.2 1076.6h0M1040 1076h0M1027.1 1075.4h0M1037.4 1075.2h0M1033.6 1074.7h0M1030.5 1074.1h0M1029.6 1073.9h0M1035.5 1073.3h0M1028.3 1072.9h0M1038.2 1070.3h0M1037.2 1068.9h0M1040.6 1067.6h0M1039 1066.4h0M1038.4 1063.9h0M1030.8 1061.9h0M1033.9 1061.3h0M1033.4 1059.9h0M1031.9 1057.9h0M1029.9 1055.8h0M1037.5 1055.5h0M1040.7 1055.3h0M1027.8 1054.7h0M1035.2 1054.4h0M1038.1 1052.9h0M1037.7 1051.9h0M1040.7 1050.6h0M1036.7 1049.6h0M1034.5 1046.6h0M1027.7 1045.4h0M1035.9 1040.8h0M1035.5 950.8h0M1032 979.4h0M1029.5 1002.7h0M1035 1007.9h0" stroke="#000" stroke-width="2.5" stroke-linecap="round" fill="none"/>
<path d="M963.4 728V719.3H991.8 M1005.8 719.3H1034.7V941.6" stroke="#555" stroke-width="1.1" fill="none"/>
<path d="M998.8 719L998.8 714.6M998.8 719L994.6 717.6M998.8 719L996.2 722.6M998.8 719L1001.4 722.6M998.8 719L1003 717.6" stroke="#e01e1e" stroke-width="1.9" stroke-linecap="round" fill="none"/>
<line x1="999.3" y1="1099.8" x2="999.3" y2="1107.3" stroke="#3a3a3a" stroke-width="1.2" />
<text x="992.1" y="1132.8" font-family="Liberation Serif" font-size="15.3" text-anchor="middle" font-weight="normal" fill="#111" >HNSC</text><text x="992.1" y="1150.6" font-family="Liberation Serif" font-size="15.3" text-anchor="middle" font-weight="normal" fill="#111" >(num(T)=519; num(N)=44)</text>
<line x1="88" y1="1242.6" x2="123.4" y2="1242.6" stroke="#dcdcdc" stroke-width="1"/>
<line x1="134.8" y1="1242.6" x2="402.2" y2="1242.6" stroke="#dcdcdc" stroke-width="1"/>
<line x1="402.2" y1="1231.8" x2="402.2" y2="1242.6" stroke="#dcdcdc" stroke-width="1"/>
<line x1="87.5" y1="1712" x2="167.5" y2="1712" stroke="#dcdcdc" stroke-width="1"/>
<line x1="382" y1="1712" x2="420" y2="1712" stroke="#dcdcdc" stroke-width="1"/>
<text transform="translate(108.8 1265.8) scale(0.70 1)" x="0" y="0" font-family="Liberation Sans" font-size="37" fill="#000" stroke="#000" stroke-width="0.5">a</text>
<rect x="161.1" y="1260.4" width="230.8" height="398.8" fill="none" stroke="#3a3a3a" stroke-width="1.3"/>
<line x1="153.1" y1="1643.9" x2="161.1" y2="1643.9" stroke="#3a3a3a" stroke-width="1.2" />
<text transform="translate(136.5 1643.9) rotate(-90)" font-family="Liberation Sans" font-size="15.6" text-anchor="middle" dominant-baseline="central" fill="#1a1a1a">0</text>
<line x1="153.1" y1="1579.1" x2="161.1" y2="1579.1" stroke="#3a3a3a" stroke-width="1.2" />
<text transform="translate(136.5 1579.1) rotate(-90)" font-family="Liberation Sans" font-size="15.6" text-anchor="middle" dominant-baseline="central" fill="#1a1a1a">2</text>
<line x1="153.1" y1="1514.3" x2="161.1" y2="1514.3" stroke="#3a3a3a" stroke-width="1.2" />
<text transform="translate(136.5 1514.3) rotate(-90)" font-family="Liberation Sans" font-size="15.6" text-anchor="middle" dominant-baseline="central" fill="#1a1a1a">4</text>
<line x1="153.1" y1="1449.4" x2="161.1" y2="1449.4" stroke="#3a3a3a" stroke-width="1.2" />
<text transform="translate(136.5 1449.4) rotate(-90)" font-family="Liberation Sans" font-size="15.6" text-anchor="middle" dominant-baseline="central" fill="#1a1a1a">6</text>
<line x1="153.1" y1="1384.6" x2="161.1" y2="1384.6" stroke="#3a3a3a" stroke-width="1.2" />
<text transform="translate(136.5 1384.6) rotate(-90)" font-family="Liberation Sans" font-size="15.6" text-anchor="middle" dominant-baseline="central" fill="#1a1a1a">8</text>
<line x1="153.1" y1="1319.8" x2="161.1" y2="1319.8" stroke="#3a3a3a" stroke-width="1.2" />
<text transform="translate(136.5 1319.8) rotate(-90)" font-family="Liberation Sans" font-size="15.6" text-anchor="middle" dominant-baseline="central" fill="#1a1a1a">10</text>
<text transform="translate(105.6 1475.2) rotate(-90)" font-family="Liberation Serif" font-size="18.1" text-anchor="middle" dominant-baseline="central" fill="#111">Expression −log<tspan font-size="11.8" dy="3.3">2</tspan><tspan dy="-3.3">(TPM+1)</tspan></text>
<line x1="241.1" y1="1292.9" x2="241.1" y2="1429.1" stroke="#222" stroke-width="1" stroke-dasharray="3 3"/>
<line x1="226.7" y1="1292.9" x2="254.8" y2="1292.9" stroke="#333" stroke-width="1.1" />
<rect x="212.5" y="1429.1" width="56.7" height="111.9" fill="#fd6464" stroke="#241010" stroke-width="1.1"/>
<line x1="212.5" y1="1485.5" x2="269.2" y2="1485.5" stroke="#100000" stroke-width="2.6" />
<line x1="212.5" y1="1643.9" x2="269.2" y2="1643.9" stroke="#000" stroke-width="3.2" />
<path d="M246.4 1642.8h0M236.2 1642h0M243.9 1641.3h0M232.9 1639.7h0M246.7 1639.3h0M243 1638.3h0M242.8 1636.9h0M241.8 1635.3h0M237.7 1634.7h0M242.5 1633.4h0M240 1632.5h0M236.7 1631.3h0M241.6 1630.6h0M242 1629.7h0M245.7 1627.8h0M239.2 1627.4h0M238.1 1625.6h0M235.8 1624.5h0M233.2 1623.6h0M245.3 1622.7h0M242.6 1621.8h0M248.3 1620.4h0M240.9 1620.1h0M238.6 1619.3h0M235.1 1618.1h0M233.9 1616.6h0M232.8 1616.1h0M236.5 1614.4h0M242.4 1614.1h0M242.6 1612.5h0M241 1611.7h0M237.5 1610.5h0M243.6 1609.4h0M246.7 1608.4h0M240.8 1607.4h0M244.2 1606.8h0M233 1605.7h0M235.7 1604.4h0M239.7 1603.9h0M241.7 1603.3h0M245.4 1601.9h0M237.4 1600.9h0M247.8 1600h0M245.9 1599h0M243.5 1598.6h0M235.2 1597.5h0M235.4 1596.4h0M235.9 1595.7h0M236.5 1594.7h0M233.9 1593.2h0M233.5 1592.9h0M236.2 1591.7h0M236.4 1590.8h0M240.3 1590.2h0M246.6 1589.4h0M238.8 1588h0M247.6 1587.2h0M238.8 1586.3h0M238.6 1585.7h0M242.3 1584.4h0M246.8 1583.9h0M238.2 1583.2h0M247.1 1581.8h0M232.8 1581.2h0M239.3 1580.3h0M238.1 1579.9h0M233.2 1578.3h0M235.2 1578.1h0M237.5 1576.7h0M243.3 1576h0M239.5 1575.7h0M245.2 1574.8h0M238.4 1573.7h0M245.6 1572.7h0M234.1 1572.5h0M237.5 1571.5h0M239.4 1570.6h0M243.2 1569.4h0M242.4 1568.7h0M241.6 1568.5h0M241.8 1567.8h0M247.3 1567h0M246.7 1566.2h0M235.9 1565.5h0M245.6 1564.7h0M244.4 1563.6h0M234.9 1563h0M233.1 1562.6h0M234.6 1561.4h0M232.6 1560.8h0M242.1 1560.4h0M233.7 1559.8h0M237.1 1558.7h0M243.7 1558.6h0M241.2 1557.3h0M239.2 1557.2h0M236.5 1556.2h0M244.3 1555.7h0M245.7 1554.9h0M240.8 1554.1h0M234.5 1553.5h0M243.3 1553.2h0M240 1552.3h0M246.7 1552h0M233.5 1551.4h0M236.9 1550.9h0M245.5 1550.2h0M237.6 1550h0M245.4 1549h0M238.7 1548.5h0M246 1547.9h0M241.2 1547.4h0M234.7 1547h0M232.8 1546.8h0M240.7 1546.3h0M241.7 1545.5h0M244.5 1545.1h0M237 1544.6h0M247.2 1544.4h0M243.6 1544h0M235 1543.6h0M238.3 1543.3h0M246.5 1543h0M236.4 1542.5h0M232.7 1542.1h0M239.7 1541.8h0M238.9 1541.7h0M233.2 1541.3h0M235.4 1541.2h0M235.7 1541h0M238.4 1540.5h0M234.5 1540.1h0M233 1539.9h0M235.5 1539.6h0M241.3 1538.9h0M236.3 1538.4h0M248.2 1538.1h0M236.3 1537.8h0M247.9 1537.4h0M240.4 1536.8h0M233.9 1536.4h0M243.7 1536.1h0M240.7 1535.7h0M235.5 1534.9h0M244.6 1534.7h0M245.7 1534.2h0M241.7 1533.7h0M240.7 1533.5h0M235.7 1532.8h0M235.7 1532.6h0M234.1 1532h0M242.2 1531.8h0M239.3 1531.2h0M243.8 1530.7h0M233.8 1530.5h0M242.4 1529.9h0M243.7 1529.4h0M235.7 1529.3h0M244.1 1528.8h0M236.3 1528.4h0M236.9 1528h0M243.8 1527.4h0M234.2 1526.8h0M248 1526.5h0M234.6 1526.2h0M245.6 1525.6h0M233.9 1525.5h0M238.4 1524.9h0M233.9 1524.6h0M247.7 1524h0M237 1523.5h0M237.1 1522.9h0M234.6 1522.9h0M247.1 1522.5h0M248.1 1521.8h0M233.7 1521.4h0M238 1521.1h0M233.9 1520.7h0M246.4 1520.1h0M236.4 1519.5h0M236.6 1519.2h0M247 1518.7h0M235.6 1518.6h0M248.1 1517.9h0M233.6 1517.4h0M244.8 1517.1h0M241.2 1516.7h0M233.5 1516.2h0M248 1515.8h0M238.3 1515.4h0M246.7 1515.2h0M247.7 1514.5h0M243.5 1514h0M245.5 1513.6h0M239.2 1513.2h0M245 1512.8h0M245 1512.5h0M238.6 1512h0M247.1 1511.6h0M233.3 1511.4h0M234.3 1510.7h0M247.1 1510.2h0M238.1 1509.9h0M246.6 1509.4h0M246.7 1509h0M240 1508.7h0M244.3 1508.1h0M238.2 1507.8h0M243.1 1507.2h0M236.6 1506.9h0M234 1506.5h0M234 1506.1h0M242.5 1505.7h0M246 1505.2h0M238 1504.7h0M245.7 1504.4h0M235.2 1504.1h0M234.9 1503.5h0M235.1 1503.1h0M246.3 1502.6h0M244.8 1502.2h0M234.3 1502h0M245 1501.5h0M241.6 1501h0M241.5 1500.3h0M241.3 1500.1h0M242 1499.5h0M234.7 1499.2h0M244.1 1498.6h0M245.1 1498.2h0M239.6 1498h0M235.4 1497.4h0M240.3 1496.9h0M247.1 1496.6h0M238 1496.3h0M234.2 1495.7h0M235.9 1495.4h0M242.7 1494.7h0M242.7 1494.4h0M238.4 1494.1h0M242.3 1493.4h0M239.4 1493.2h0M236.2 1492.6h0M243.6 1492.2h0M248.3 1491.8h0M241 1491.5h0M243.2 1491.1h0M244.7 1490.5h0M245.4 1490.3h0M242.8 1490h0M237.7 1489.5h0M234.8 1488.9h0M243.1 1488.4h0M240.2 1487.9h0M244.4 1487.5h0M243 1487.2h0M242 1486.9h0M234.8 1486.4h0M247.2 1485.9h0M235.2 1485.5h0M235.7 1485h0M244.3 1484.6h0M237.3 1484.3h0M243.1 1483.8h0M247.7 1483.2h0M247.3 1482.8h0M236.6 1482.6h0M245 1481.8h0M233.6 1481.6h0M239 1481.3h0M242.2 1480.9h0M237.9 1480.1h0M237 1479.9h0M242.2 1479.5h0M233.3 1479.1h0M247.2 1478.7h0M234.6 1478h0M244.5 1477.7h0M243 1477.3h0M238.3 1476.6h0M235 1476.4h0M240.2 1475.8h0M237.5 1475.5h0M242.1 1475h0M244.7 1474.5h0M234.6 1474.4h0M235.6 1473.8h0M235.4 1473.5h0M234.2 1472.7h0M240 1472.3h0M239.9 1471.9h0M238.9 1471.7h0M244.8 1471h0M239.1 1470.7h0M235 1470.2h0M238.3 1469.9h0M245.5 1469.5h0M237 1469.1h0M237.3 1468.5h0M239.6 1467.9h0M237 1467.9h0M239.1 1467.3h0M247.3 1467h0M243.7 1466.4h0M239.9 1466h0M246.8 1465.6h0M240.8 1465.2h0M237.5 1464.7h0M247.7 1464.4h0M243.7 1463.8h0M247.1 1463.2h0M240.3 1462.9h0M241.3 1462.3h0M238.3 1462.1h0M237.5 1461.4h0M244.8 1461.1h0M242.4 1460.6h0M248.1 1460.2h0M238 1459.9h0M244.4 1459.5h0M246 1459.1h0M235.1 1458.7h0M237.7 1458h0M235.8 1457.6h0M240 1457.3h0M241.2 1456.7h0M247.3 1456.2h0M245.9 1456.1h0M237.2 1455.3h0M241.4 1455.1h0M236.6 1454.4h0M246.3 1454.3h0M247.3 1453.9h0M248.3 1453.4h0M238.2 1453h0M245.3 1452.3h0M236.7 1451.9h0M244.2 1451.6h0M247.8 1451.1h0M243.2 1450.6h0M243 1450.2h0M239.5 1449.7h0M241.1 1449.4h0M239.3 1449.2h0M238.1 1448.6h0M245.9 1448.3h0M241 1447.8h0M240.1 1447.4h0M242.7 1446.7h0M243 1446.3h0M241.9 1445.7h0M234 1445.7h0M241.8 1444.9h0M244 1444.6h0M238.1 1444.1h0M241.2 1443.9h0M241 1443.4h0M248 1442.9h0M243.4 1442.3h0M242 1441.9h0M237.7 1441.7h0M241.5 1441.2h0M233.8 1440.9h0M235.3 1440.1h0M243.4 1440h0M244.3 1439.4h0M232.9 1439.2h0M245 1438.6h0M239.7 1438.2h0M244.2 1437.6h0M234.4 1437.3h0M235.4 1437h0M248 1436.4h0M243.6 1436.1h0M239.1 1435.4h0M234.8 1434.9h0M233.8 1434.4h0M233.4 1434.3h0M233.4 1433.9h0M237.2 1433.3h0M240.8 1432.7h0M246.7 1432.6h0M241.4 1432.2h0M236.6 1431.7h0M234.1 1431.2h0M241.3 1430.7h0M244.5 1430.2h0M245.3 1430.1h0M239.9 1429.5h0M238.3 1429.2h0M245 1429.1h0M246.3 1429.1h0M235.9 1429.1h0M233.4 1429.1h0M238.8 1429.1h0M245.5 1429h0M232.8 1429h0M234.1 1429h0M237.3 1428.9h0M246.6 1428.9h0M241.8 1428.9h0M233.3 1428.8h0M237.6 1428.8h0M242.3 1428.7h0M238.2 1428.6h0M235.5 1428.5h0M237.2 1428.3h0M238.2 1428.2h0M234.2 1428.1h0M238.4 1428h0M246.2 1427.8h0M243.9 1427.7h0M239.6 1427.5h0M241.1 1427.4h0M236.4 1427.2h0M234.2 1426.9h0M239.1 1426.8h0M235.4 1426.6h0M240.5 1426.3h0M247.9 1426h0M233.5 1425.8h0M242.7 1425.3h0M245.6 1425h0M243 1425h0M242.3 1424.5h0M233.1 1424.3h0M240.1 1423.8h0M236.4 1423.2h0M241.4 1423h0M242.5 1422.6h0M240.7 1422.1h0M234.4 1421.8h0M241.3 1421.5h0M239 1420.8h0M238 1420.2h0M239.9 1419.9h0M239.1 1419h0M243.3 1418.9h0M243.8 1417.9h0M245.6 1417.5h0M244.5 1416.9h0M242.2 1416.6h0M238.4 1415.8h0M240.6 1415h0M238.3 1414.6h0M242.2 1413.9h0M234.3 1413.1h0M239.7 1411.8h0M238.1 1411.6h0M245 1410.2h0M235.5 1409.6h0M236.6 1409.1h0M242.6 1408.1h0M245.3 1407.1h0M237.6 1406.5h0M243.3 1405h0M236.9 1404.3h0M237 1403.5h0M234.9 1402.1h0M240.5 1401.4h0M232.8 1400.3h0M247 1399.2h0M233.7 1398h0M237.7 1397h0M240.1 1395.9h0M234.7 1394.4h0M240.4 1393.2h0M243.2 1392h0M234.6 1390.7h0M236 1390.4h0M243 1388.7h0M242.6 1388h0M244.2 1385.9h0M236.6 1385.3h0M233.8 1383.3h0M234.5 1382.5h0M247.7 1380.1h0M245.5 1378.8h0M237.4 1377.2h0M240.5 1375.6h0M242.4 1374.1h0M244.6 1373.7h0M246.5 1370.8h0M243.6 1370.4h0M234.1 1368.1h0M243.1 1366h0M242.3 1365h0M234.5 1363h0M245.7 1361.2h0M240.5 1359.3h0M236.9 1358.4h0M241.2 1356.3h0M242.1 1354.4h0M238.5 1352.7h0M236.8 1350.2h0M245.1 1347.2h0M232.8 1347.1h0M242.5 1344h0M239.2 1341.5h0M234.2 1339h0M239.3 1338.8h0M247.5 1336.3h0M246.3 1332.9h0M232.7 1332.3h0M234.3 1329.7h0M233.9 1327h0M241.8 1324.1h0M237.2 1322.8h0M245.8 1320.8h0M246.1 1318h0M240.4 1314.6h0M235.6 1311.8h0M241 1309.2h0M245.8 1307.4h0M240.8 1304h0M247 1302.4h0M234.6 1300.3h0M238.1 1297.2h0M242.7 1294h0" stroke="#000" stroke-width="2.5" stroke-linecap="round" fill="none"/>
<line x1="311.9" y1="1499.7" x2="311.9" y2="1562.5" stroke="#222" stroke-width="1" stroke-dasharray="3 3"/>
<line x1="304" y1="1499.7" x2="326.3" y2="1499.7" stroke="#333" stroke-width="1.1" />
<rect x="283.8" y="1562.5" width="56.7" height="70.4" fill="#7f7f7f" stroke="#241010" stroke-width="1.1"/>
<line x1="283.8" y1="1610.5" x2="340.5" y2="1610.5" stroke="#100000" stroke-width="2.6" />
<line x1="283.8" y1="1643.9" x2="340.5" y2="1643.9" stroke="#000" stroke-width="3.2" />
<path d="M306.2 1642.6h0M315.1 1641.7h0M317.1 1640.7h0M315.5 1639.1h0M318.9 1637.9h0M315.4 1636.7h0M305 1635.2h0M307.9 1634.6h0M316.3 1633.9h0M304 1633.6h0M306.2 1633h0M306.7 1631.5h0M304.8 1630.4h0M318.9 1627.5h0M310.3 1625.2h0M318.5 1623.5h0M315.6 1621.6h0M305.8 1619.7h0M312.2 1616.9h0M312.1 1614.6h0M309 1613.7h0M311.3 1611.7h0M310.1 1606.6h0M318.6 1605.1h0M310.9 1601.4h0M317.3 1593.6h0M307.4 1592.8h0M308.8 1586.7h0M312.6 1582.4h0M318.7 1579.2h0M315.6 1575.5h0M317.6 1569.9h0M308.3 1565.9h0M318.7 1562.5h0M309 1561.1h0M312.2 1560.3h0M315.4 1558h0M305 1555.4h0M305.8 1548.6h0M311.7 1539.3h0M312.3 1532.9h0M308.9 1524h0M311.6 1514h0M303.6 1500.9h0M311.3 1403.2h0M312.8 1444.8h0" stroke="#000" stroke-width="2.5" stroke-linecap="round" fill="none"/>
<path d="M240.6 1284.4V1275.3H269.1 M283.1 1275.3H312.4V1394.1" stroke="#555" stroke-width="1.1" fill="none"/>
<path d="M276.1 1275L276.1 1270.6M276.1 1275L271.9 1273.6M276.1 1275L273.5 1278.6M276.1 1275L278.7 1278.6M276.1 1275L280.3 1273.6" stroke="#e01e1e" stroke-width="1.9" stroke-linecap="round" fill="none"/>
<line x1="276.5" y1="1659.2" x2="276.5" y2="1666.7" stroke="#3a3a3a" stroke-width="1.2" />
<text x="275" y="1691.8" font-family="Liberation Serif" font-size="15.3" text-anchor="middle" font-weight="normal" fill="#111" >HNSC</text><text x="275" y="1709.7" font-family="Liberation Serif" font-size="15.3" text-anchor="middle" font-weight="normal" fill="#111" >(num(T)=519; num(N)=44)</text>
<line x1="855.7" y1="1230.2" x2="1091" y2="1230.2" stroke="#dcdcdc" stroke-width="1"/>
<line x1="830.1" y1="1230.7" x2="830.1" y2="1345" stroke="#dcdcdc" stroke-width="1"/>
<line x1="830.1" y1="1591.8" x2="830.1" y2="1693.5" stroke="#dcdcdc" stroke-width="1"/>
<line x1="830" y1="1693.5" x2="899" y2="1693.5" stroke="#dcdcdc" stroke-width="1"/>
<line x1="1114" y1="1693.5" x2="1132" y2="1693.5" stroke="#dcdcdc" stroke-width="1"/>
<text transform="translate(829.2 1262.4) scale(0.70 1)" x="0" y="0" font-family="Liberation Sans" font-size="37" fill="#000" stroke="#000" stroke-width="0.5">a</text>
<rect x="896.8" y="1246.7" width="221.7" height="395.8" fill="none" stroke="#3a3a3a" stroke-width="1.3"/>
<line x1="888.8" y1="1626.5" x2="896.8" y2="1626.5" stroke="#3a3a3a" stroke-width="1.2" />
<text transform="translate(873.3 1626.5) rotate(-90)" font-family="Liberation Sans" font-size="15.6" text-anchor="middle" dominant-baseline="central" fill="#1a1a1a">2</text>
<line x1="888.8" y1="1566.1" x2="896.8" y2="1566.1" stroke="#3a3a3a" stroke-width="1.2" />
<text transform="translate(873.3 1566.1) rotate(-90)" font-family="Liberation Sans" font-size="15.6" text-anchor="middle" dominant-baseline="central" fill="#1a1a1a">4</text>
<line x1="888.8" y1="1505.8" x2="896.8" y2="1505.8" stroke="#3a3a3a" stroke-width="1.2" />
<text transform="translate(873.3 1505.8) rotate(-90)" font-family="Liberation Sans" font-size="15.6" text-anchor="middle" dominant-baseline="central" fill="#1a1a1a">6</text>
<line x1="888.8" y1="1445.4" x2="896.8" y2="1445.4" stroke="#3a3a3a" stroke-width="1.2" />
<text transform="translate(873.3 1445.4) rotate(-90)" font-family="Liberation Sans" font-size="15.6" text-anchor="middle" dominant-baseline="central" fill="#1a1a1a">8</text>
<line x1="888.8" y1="1385.1" x2="896.8" y2="1385.1" stroke="#3a3a3a" stroke-width="1.2" />
<text transform="translate(873.3 1385.1) rotate(-90)" font-family="Liberation Sans" font-size="15.6" text-anchor="middle" dominant-baseline="central" fill="#1a1a1a">10</text>
<line x1="888.8" y1="1324.7" x2="896.8" y2="1324.7" stroke="#3a3a3a" stroke-width="1.2" />
<text transform="translate(873.3 1324.7) rotate(-90)" font-family="Liberation Sans" font-size="15.6" text-anchor="middle" dominant-baseline="central" fill="#1a1a1a">12</text>
<line x1="888.8" y1="1264.3" x2="896.8" y2="1264.3" stroke="#3a3a3a" stroke-width="1.2" />
<text transform="translate(873.3 1264.3) rotate(-90)" font-family="Liberation Sans" font-size="15.6" text-anchor="middle" dominant-baseline="central" fill="#1a1a1a">14</text>
<text transform="translate(838.6 1470.7) rotate(-90)" font-family="Liberation Serif" font-size="18.1" text-anchor="middle" dominant-baseline="central" fill="#111">Expression −log<tspan font-size="11.8" dy="3.3">2</tspan><tspan dy="-3.3">(TPM+1)</tspan></text>
<line x1="972.9" y1="1312.3" x2="972.9" y2="1397.5" stroke="#222" stroke-width="1" stroke-dasharray="3 3"/>
<line x1="972.9" y1="1474.1" x2="972.9" y2="1575.8" stroke="#222" stroke-width="1" stroke-dasharray="3 3"/>
<line x1="959.7" y1="1312.3" x2="987.1" y2="1312.3" stroke="#333" stroke-width="1.1" />
<line x1="959.7" y1="1575.8" x2="987.1" y2="1575.8" stroke="#333" stroke-width="1.1" />
<rect x="946" y="1397.5" width="55.3" height="76.6" fill="#fd6464" stroke="#241010" stroke-width="1.1"/>
<line x1="946" y1="1433.6" x2="1001.3" y2="1433.6" stroke="#100000" stroke-width="2.6" />
<path d="M969.9 1574.4h0M979.4 1573h0M976.5 1572.2h0M967 1570.6h0M976.3 1569.1h0M974.8 1567.9h0M967.1 1566.1h0M970.5 1564.5h0M978.3 1563h0M968 1560.8h0M974.1 1559.3h0M977.3 1557.9h0M968.4 1557.1h0M980.2 1555.1h0M966.2 1554.2h0M976.5 1552.5h0M979.8 1551.1h0M976 1549.6h0M972.8 1549h0M976.4 1547.5h0M977.5 1546h0M973.7 1544.9h0M976.9 1543h0M975.4 1541.7h0M971 1541.5h0M968.5 1540h0M966.1 1539h0M976.8 1537.3h0M979.7 1535.6h0M964.6 1534.7h0M965.3 1534h0M969.5 1532h0M971.5 1531h0M977.9 1530h0M965.6 1528.7h0M970 1527.6h0M968.6 1526.1h0M979 1525.8h0M965.7 1524.5h0M978.9 1523h0M967 1522.2h0M969.8 1520.8h0M965.1 1520.4h0M968.1 1518.6h0M970.1 1518.4h0M980.2 1516.8h0M974.2 1516.3h0M978 1515.2h0M975.2 1514h0M972.9 1512.7h0M964.5 1512.1h0M975.3 1511.4h0M973.5 1509.9h0M976.2 1509.6h0M977.9 1508h0M974.9 1507.2h0M970.1 1506.6h0M974.6 1505.9h0M977.2 1504.9h0M968.6 1504.1h0M968.8 1503.4h0M977.4 1502h0M965 1501.1h0M973.3 1500.5h0M979.3 1499.9h0M969.3 1498.9h0M971.4 1498h0M971.9 1497.5h0M964.8 1496.8h0M969.2 1495.8h0M967.2 1495.3h0M965.5 1494.5h0M967.7 1494.2h0M975.2 1493h0M965.9 1492.4h0M976 1491.9h0M971.5 1491.1h0M970.4 1490.9h0M978.5 1489.7h0M970 1489.3h0M973.5 1488.7h0M977.9 1488.2h0M965.9 1487.6h0M975.4 1486.9h0M972.7 1486.7h0M974.6 1485.7h0M972 1485.3h0M980 1484.9h0M971.7 1484.5h0M972.5 1484.1h0M975.3 1483.3h0M968.5 1482.7h0M970.1 1482.6h0M978.8 1482.1h0M971.9 1481.7h0M970.9 1481h0M971 1480.8h0M969.5 1480.5h0M964.6 1479.9h0M977.1 1479.8h0M971.1 1479.2h0M971.9 1478.9h0M971.3 1478.7h0M973.7 1478.3h0M973.7 1478h0M980 1477.8h0M971.9 1477.5h0M966.4 1477.1h0M971.5 1476.7h0M969.6 1476.7h0M973 1476.4h0M979.6 1476h0M975.6 1476h0M976.5 1475.7h0M965.1 1475.6h0M978.7 1475.4h0M965.1 1475.2h0M965.4 1475h0M979.5 1474.9h0M976.4 1474.8h0M971.6 1474.6h0M967.7 1474.5h0M972.8 1474.4h0M972.8 1474.3h0M978.4 1474.3h0M970.4 1474.2h0M977.7 1474.2h0M976.1 1474.1h0M970 1474.1h0M965.9 1474.1h0M971.7 1473.9h0M967 1473.6h0M969.8 1473.1h0M966.3 1473h0M978.1 1472.5h0M970.5 1472.4h0M967.4 1472.1h0M974.1 1471.6h0M975.3 1471.2h0M976.8 1471.1h0M973.7 1470.9h0M965.6 1470.4h0M972.6 1470.2h0M965.7 1469.9h0M979.8 1469.5h0M980.2 1469.2h0M966 1468.9h0M971.6 1468.7h0M977.2 1468.1h0M973.7 1467.8h0M973.1 1467.5h0M972.9 1467.4h0M977.2 1467.1h0M967.9 1466.6h0M969 1466.5h0M967.4 1466.2h0M979 1465.6h0M978.4 1465.5h0M980.2 1465.2h0M974.1 1464.8h0M964.5 1464.6h0M974.3 1464.2h0M976.7 1463.8h0M964.8 1463.4h0M965.8 1463.2h0M972.8 1462.8h0M970.7 1462.8h0M978.4 1462.2h0M972.5 1461.9h0M975.2 1461.6h0M976.6 1461.4h0M968 1461.2h0M976.2 1460.7h0M965.4 1460.3h0M969.2 1460h0M975.5 1459.9h0M967.6 1459.4h0M978.6 1459.2h0M971 1458.8h0M977.1 1458.6h0M970.2 1458.4h0M967.9 1458.1h0M972.4 1457.7h0M974.2 1457.2h0M970.7 1457.1h0M966.5 1456.8h0M979.5 1456.5h0M977.8 1456h0M968.6 1455.7h0M972.9 1455.4h0M973.6 1455h0M966.4 1454.8h0M975.5 1454.4h0M968.5 1454.2h0M970.9 1453.8h0M976.5 1453.7h0M977.1 1453.2h0M970.7 1452.8h0M965.6 1452.6h0M977.4 1452.3h0M964.7 1452h0M970.6 1451.6h0M976.3 1451.5h0M972.4 1451.1h0M971.6 1450.7h0M969 1450.4h0M971.8 1450.2h0M969.6 1449.7h0M968.5 1449.6h0M966.7 1449.3h0M973.5 1448.9h0M965.8 1448.4h0M966.9 1448.3h0M977.9 1448h0M972.5 1447.8h0M977.7 1447.4h0M980.2 1447h0M978.9 1446.6h0M966.1 1446.3h0M979.8 1446.2h0M965.4 1445.9h0M973.7 1445.4h0M971.2 1445.3h0M971.7 1444.9h0M966.5 1444.6h0M969.7 1444.2h0M979.9 1443.8h0M976.6 1443.7h0M969.1 1443.2h0M969 1442.9h0M969.7 1442.5h0M968.5 1442.3h0M967.9 1441.9h0M967 1441.6h0M975.4 1441.4h0M976.8 1441.1h0M980.1 1440.9h0M978.5 1440.5h0M970.9 1440.3h0M979.3 1439.8h0M970.7 1439.4h0M969.9 1439.3h0M966.6 1439h0M966.1 1438.5h0M971.1 1438.2h0M969.3 1438.1h0M974.4 1437.8h0M974 1437.4h0M974.2 1437h0M976 1436.8h0M971.1 1436.5h0M980 1436h0M971.7 1435.8h0M974.7 1435.5h0M968.9 1435h0M973.3 1435h0M972.3 1434.6h0M966.4 1434.2h0M978.4 1434h0M975.3 1433.6h0M968.9 1433.3h0M973.2 1433.1h0M973.5 1432.9h0M965 1432.4h0M973.8 1432.1h0M970.2 1431.8h0M967.5 1431.7h0M965.5 1431.3h0M968.7 1431.2h0M979.1 1430.7h0M974.4 1430.5h0M975.1 1430.3h0M970.1 1429.9h0M967.8 1429.8h0M969.7 1429.5h0M973 1429.2h0M974.5 1428.8h0M972 1428.6h0M978.6 1428.4h0M973.3 1428.2h0M975 1427.7h0M976.6 1427.6h0M977 1427.2h0M972.2 1427h0M966.5 1426.5h0M972.5 1426.3h0M967 1426.1h0M966 1425.8h0M965.2 1425.6h0M973.8 1425.4h0M978 1425h0M968.4 1424.8h0M973.1 1424.4h0M972.9 1424.3h0M979.2 1423.9h0M974.8 1423.5h0M977.3 1423.4h0M974.5 1422.9h0M976.7 1422.8h0M966.2 1422.5h0M969.6 1422.2h0M966.6 1421.9h0M966.6 1421.6h0M969.9 1421.3h0M973.3 1420.9h0M968.4 1420.9h0M974.3 1420.6h0M979.8 1420.3h0M967.3 1419.9h0M965.5 1419.8h0M968.4 1419.4h0M970.7 1419.2h0M967.5 1418.7h0M977.5 1418.4h0M971.7 1418.2h0M972.3 1418h0M972 1417.6h0M968.1 1417.6h0M964.4 1417.1h0M977.8 1416.9h0M971.8 1416.7h0M965.4 1416.3h0M978.6 1416.1h0M967.8 1415.8h0M977.2 1415.4h0M974.7 1415.2h0M973.8 1415h0M965.8 1414.6h0M969.1 1414.4h0M973.7 1414.2h0M966.5 1414h0M970.5 1413.6h0M967.6 1413.3h0M978.1 1413.1h0M965.6 1412.7h0M975.7 1412.3h0M976 1412.1h0M974.8 1411.8h0M964.7 1411.7h0M978.1 1411.5h0M968.2 1411.2h0M968.2 1410.7h0M966.1 1410.5h0M972.1 1410.4h0M965.6 1409.9h0M973.6 1409.6h0M969.5 1409.4h0M972.1 1409.2h0M970.5 1408.8h0M974.1 1408.6h0M965.3 1408.4h0M973.8 1408h0M965.8 1407.7h0M978.6 1407.5h0M979.1 1407.3h0M979.5 1406.9h0M970.9 1406.7h0M972.5 1406.4h0M969.2 1406h0M978.8 1405.8h0M971.7 1405.5h0M978.9 1405.3h0M968.2 1404.8h0M978.9 1404.7h0M969.3 1404.4h0M977.7 1404.1h0M973.4 1403.9h0M976.4 1403.7h0M973.9 1403.4h0M972.6 1403h0M964.4 1402.6h0M969 1402.4h0M968.7 1402.1h0M967.9 1401.9h0M965.8 1401.6h0M975.9 1401.3h0M966.8 1401h0M975.6 1400.7h0M966.8 1400.4h0M969.6 1400.2h0M978.6 1399.8h0M968.4 1399.7h0M977.1 1399.4h0M979.9 1399.1h0M966.7 1398.9h0M972.6 1398.6h0M972.7 1398.3h0M972.6 1397.9h0M968.7 1397.8h0M968.7 1397.5h0M968.1 1397.5h0M966.1 1397.5h0M977.3 1397.5h0M964.7 1397.5h0M980.1 1397.5h0M978.7 1397.4h0M970.7 1397.4h0M973.7 1397.4h0M965.3 1397.4h0M968.3 1397.3h0M978 1397.3h0M964.8 1397.2h0M976.3 1397.1h0M977.3 1397.1h0M968.6 1397h0M966.2 1396.9h0M965.8 1396.8h0M972.1 1396.7h0M980.1 1396.6h0M979.4 1396.5h0M971.6 1396.3h0M971.1 1396.3h0M978.7 1396.2h0M976.7 1395.9h0M970.8 1395.8h0M975 1395.7h0M972.3 1395.5h0M974.7 1395.4h0M966.5 1395.2h0M973.9 1395h0M974.7 1394.7h0M979.4 1394.5h0M966.3 1394.3h0M979.9 1394h0M976.1 1393.8h0M975 1393.5h0M971.9 1393.2h0M965 1393h0M976.9 1392.8h0M972.4 1392.3h0M974.4 1392.1h0M969.8 1391.8h0M968.7 1391.5h0M970.6 1390.9h0M972.4 1390.6h0M967.8 1390.3h0M966.4 1389.8h0M968.4 1389.4h0M979.3 1389h0M967.6 1388.9h0M964.7 1388.5h0M967.2 1387.7h0M972.5 1387.7h0M969.2 1386.8h0M974.2 1386.7h0M966 1385.9h0M972.3 1385.5h0M975.3 1385h0M977.5 1384.6h0M977.7 1383.9h0M969.3 1383.3h0M967.4 1382.6h0M976.8 1382.2h0M975.9 1381.7h0M964.9 1381.3h0M969.9 1380.5h0M973.2 1380h0M974.7 1379.1h0M978.3 1378.5h0M979.6 1377.8h0M970.9 1377.5h0M979.2 1376.9h0M968.2 1375.7h0M978.4 1375.2h0M976.6 1374.2h0M975.6 1373.8h0M976.3 1373.2h0M969.1 1372.5h0M968.9 1371.3h0M970.4 1370.3h0M971.2 1370.1h0M973.6 1368.8h0M972.5 1368.1h0M979 1366.9h0M979.1 1366.7h0M966.1 1365.9h0M970.5 1365h0M965.4 1363.8h0M968.7 1362.6h0M971.8 1361.8h0M974.5 1360.5h0M968.6 1359.4h0M977.2 1359.3h0M979.9 1357.7h0M978.1 1357.3h0M965.5 1356h0M965.2 1354.8h0M970.4 1353.6h0M979.1 1352.9h0M968.6 1351.4h0M969.8 1350.4h0M965 1349.4h0M972.6 1348.5h0M979.5 1347.2h0M975.5 1346.4h0M968 1344.6h0M978 1343.9h0M967.8 1342h0M966.2 1341.1h0M975 1340h0M977.1 1338.5h0M977.7 1337.5h0M967.3 1336.2h0M966.6 1334.3h0M976.1 1333.9h0M969.9 1331.4h0M966.9 1331.2h0M976.5 1330h0M977.2 1327.5h0M973.3 1326.8h0M965.8 1325.4h0M977.9 1324.4h0M965.5 1321.5h0M973.1 1320.7h0M966.1 1319.6h0M970.1 1317h0M976 1315.6h0M965.5 1314.2h0M966.7 1313.8h0M967 1282.1h0M977.5 1605h0" stroke="#000" stroke-width="2.5" stroke-linecap="round" fill="none"/>
<line x1="1041.9" y1="1450.1" x2="1041.9" y2="1524.8" stroke="#222" stroke-width="1" stroke-dasharray="3 3"/>
<line x1="1041.9" y1="1578.1" x2="1041.9" y2="1627.6" stroke="#222" stroke-width="1" stroke-dasharray="3 3"/>
<line x1="1028.7" y1="1450.1" x2="1055" y2="1450.1" stroke="#333" stroke-width="1.1" />
<line x1="1028.7" y1="1627.6" x2="1055" y2="1627.6" stroke="#333" stroke-width="1.1" />
<rect x="1014.5" y="1524.8" width="54.4" height="53.3" fill="#7f7f7f" stroke="#241010" stroke-width="1.1"/>
<line x1="1014.5" y1="1550.6" x2="1068.9" y2="1550.6" stroke="#100000" stroke-width="2.6" />
<path d="M1042 1622.3h0M1041.8 1617.7h0M1035.1 1609.8h0M1042.1 1606.4h0M1033.8 1597.9h0M1039.5 1594h0M1042.5 1590.3h0M1036.4 1586.2h0M1034.3 1582.3h0M1041.2 1580.9h0M1048.3 1579.1h0M1037.6 1577.1h0M1044.8 1573.4h0M1048.6 1572.7h0M1043.5 1569.1h0M1046 1567.7h0M1046.5 1564.4h0M1035.4 1562h0M1039.3 1559.3h0M1045.7 1557h0M1045.8 1553.7h0M1036 1551.7h0M1046.6 1549.4h0M1043.1 1547.2h0M1045.6 1545.8h0M1033.6 1543.5h0M1048.1 1540.3h0M1043.3 1538.3h0M1038.6 1536.1h0M1035.7 1533.9h0M1041 1530.8h0M1037.3 1527.5h0M1043.3 1527.1h0M1037.1 1524.5h0M1043 1524.2h0M1040.8 1522.5h0M1048.4 1519.6h0M1041.4 1513.1h0M1038.2 1510.1h0M1039.1 1503h0M1042.3 1492.4h0M1034.5 1483.7h0M1036.2 1468.8h0M1040 1452.6h0" stroke="#000" stroke-width="2.5" stroke-linecap="round" fill="none"/>
<path d="M972.9 1271.8V1262H1000.7 M1014.7 1262H1041.9V1439.8" stroke="#555" stroke-width="1.1" fill="none"/>
<path d="M1007.7 1261.7L1007.7 1257.3M1007.7 1261.7L1003.5 1260.3M1007.7 1261.7L1005.1 1265.3M1007.7 1261.7L1010.3 1265.3M1007.7 1261.7L1011.9 1260.3" stroke="#e01e1e" stroke-width="1.9" stroke-linecap="round" fill="none"/>
<line x1="1007.7" y1="1642.5" x2="1007.7" y2="1650" stroke="#3a3a3a" stroke-width="1.2" />
<text x="1006.7" y="1675.2" font-family="Liberation Serif" font-size="15.3" text-anchor="middle" font-weight="normal" fill="#111" >HNSC</text><text x="1006.7" y="1693" font-family="Liberation Serif" font-size="15.3" text-anchor="middle" font-weight="normal" fill="#111" >(num(T)=519; num(N)=44)</text>
<line x1="94.9" y1="1786.6" x2="110.9" y2="1786.6" stroke="#dcdcdc" stroke-width="1"/>
<line x1="138.3" y1="1786.6" x2="356.5" y2="1786.6" stroke="#dcdcdc" stroke-width="1"/>
<line x1="96.2" y1="2262.2" x2="167.4" y2="2262.2" stroke="#dcdcdc" stroke-width="1"/>
<line x1="382.1" y1="2262.2" x2="395.6" y2="2262.2" stroke="#dcdcdc" stroke-width="1"/>
<text transform="translate(113.4 1812.1) scale(0.70 1)" x="0" y="0" font-family="Liberation Sans" font-size="37" fill="#000" stroke="#000" stroke-width="0.5">a</text>
<rect x="166.4" y="1799.2" width="218" height="412" fill="none" stroke="#3a3a3a" stroke-width="1.3"/>
<line x1="158.4" y1="2195.6" x2="166.4" y2="2195.6" stroke="#3a3a3a" stroke-width="1.2" />
<text transform="translate(142.7 2195.6) rotate(-90)" font-family="Liberation Sans" font-size="15.6" text-anchor="middle" dominant-baseline="central" fill="#1a1a1a">0</text>
<line x1="158.4" y1="2137.1" x2="166.4" y2="2137.1" stroke="#3a3a3a" stroke-width="1.2" />
<text transform="translate(142.7 2137.1) rotate(-90)" font-family="Liberation Sans" font-size="15.6" text-anchor="middle" dominant-baseline="central" fill="#1a1a1a">2</text>
<line x1="158.4" y1="2078.5" x2="166.4" y2="2078.5" stroke="#3a3a3a" stroke-width="1.2" />
<text transform="translate(142.7 2078.5) rotate(-90)" font-family="Liberation Sans" font-size="15.6" text-anchor="middle" dominant-baseline="central" fill="#1a1a1a">4</text>
<line x1="158.4" y1="2020" x2="166.4" y2="2020" stroke="#3a3a3a" stroke-width="1.2" />
<text transform="translate(142.7 2020) rotate(-90)" font-family="Liberation Sans" font-size="15.6" text-anchor="middle" dominant-baseline="central" fill="#1a1a1a">6</text>
<line x1="158.4" y1="1961.4" x2="166.4" y2="1961.4" stroke="#3a3a3a" stroke-width="1.2" />
<text transform="translate(142.7 1961.4) rotate(-90)" font-family="Liberation Sans" font-size="15.6" text-anchor="middle" dominant-baseline="central" fill="#1a1a1a">8</text>
<line x1="158.4" y1="1902.9" x2="166.4" y2="1902.9" stroke="#3a3a3a" stroke-width="1.2" />
<text transform="translate(142.7 1902.9) rotate(-90)" font-family="Liberation Sans" font-size="15.6" text-anchor="middle" dominant-baseline="central" fill="#1a1a1a">10</text>
<line x1="158.4" y1="1844.4" x2="166.4" y2="1844.4" stroke="#3a3a3a" stroke-width="1.2" />
<text transform="translate(142.7 1844.4) rotate(-90)" font-family="Liberation Sans" font-size="15.6" text-anchor="middle" dominant-baseline="central" fill="#1a1a1a">12</text>
<text transform="translate(105.6 2012.4) rotate(-90)" font-family="Liberation Serif" font-size="18.1" text-anchor="middle" dominant-baseline="central" fill="#111">Expression −log<tspan font-size="11.8" dy="3.3">2</tspan><tspan dy="-3.3">(TPM+1)</tspan></text>
<line x1="242.3" y1="1832.3" x2="242.3" y2="2016.3" stroke="#222" stroke-width="1" stroke-dasharray="3 3"/>
<line x1="228.1" y1="1832.3" x2="255.5" y2="1832.3" stroke="#333" stroke-width="1.1" />
<rect x="214.4" y="2016.3" width="54.4" height="130.9" fill="#fd6464" stroke="#241010" stroke-width="1.1"/>
<line x1="214.4" y1="2085.5" x2="268.8" y2="2085.5" stroke="#100000" stroke-width="2.6" />
<line x1="214.4" y1="2195.6" x2="268.8" y2="2195.6" stroke="#000" stroke-width="3.2" />
<path d="M248 2195.3h0M248.7 2195.1h0M234.7 2194.3h0M246.5 2193.9h0M249.1 2193.7h0M240.9 2193.2h0M244.7 2192.6h0M238.2 2192.2h0M236 2191.8h0M241.6 2191.5h0M239.3 2191.1h0M236.6 2190.4h0M234.4 2190.1h0M235.4 2189.5h0M245.6 2189.3h0M242.5 2188.8h0M241.6 2188.3h0M236.2 2187.9h0M237 2187.6h0M238.9 2187.1h0M237.2 2186.4h0M238 2186.3h0M246.9 2185.9h0M245.9 2185.1h0M242.5 2184.7h0M239.9 2184.4h0M237.6 2183.9h0M240 2183.6h0M247.6 2183.1h0M236 2182.6h0M245.4 2182.3h0M234.8 2181.9h0M242.3 2181.6h0M241.6 2180.9h0M242.5 2180.5h0M237.2 2180h0M245.6 2179.6h0M237.4 2179.5h0M246.2 2179h0M234.9 2178.5h0M238.7 2178h0M238.2 2177.5h0M239 2177.4h0M240.6 2176.9h0M235.5 2176.4h0M234.5 2176.1h0M241.5 2175.4h0M236.5 2175.3h0M233.9 2174.8h0M244.4 2174.5h0M245 2174h0M238.9 2173.4h0M246.5 2173.1h0M242.3 2172.6h0M234.3 2172.3h0M242.9 2172.1h0M243.5 2171.5h0M234.6 2171.2h0M237 2170.8h0M237.5 2170.3h0M242.3 2169.9h0M243.5 2169.6h0M239 2169h0M247.4 2169h0M247.9 2168.5h0M240.2 2168h0M235.6 2167.5h0M238.2 2167.1h0M248.9 2166.8h0M239.1 2166.3h0M242.1 2165.9h0M239.6 2165.8h0M243.8 2165.5h0M242.7 2165h0M240.9 2164.4h0M243.3 2164.4h0M243.2 2164h0M240.9 2163.4h0M235.2 2163h0M237.1 2162.8h0M235.7 2162.4h0M247.3 2162.1h0M243.5 2161.4h0M234 2161.1h0M245.2 2160.9h0M234.6 2160.4h0M249.1 2160h0M240.2 2159.9h0M239.2 2159.3h0M243 2159.2h0M246 2158.7h0M241.8 2158.5h0M248.6 2158.1h0M248.8 2157.5h0M236.6 2157.5h0M241.2 2156.9h0M244 2156.5h0M235.6 2156.5h0M238.1 2155.9h0M243.6 2155.7h0M235.4 2155.4h0M234.1 2155h0M239.9 2154.7h0M235.1 2154.4h0M244.6 2153.9h0M241 2153.7h0M241.2 2153.2h0M241.8 2153.1h0M242.5 2152.7h0M241.7 2152.5h0M244.4 2152.2h0M245.4 2151.7h0M249.3 2151.4h0M240.5 2151.2h0M237.3 2150.8h0M243.2 2150.7h0M249.3 2150.5h0M241.9 2149.9h0M239.2 2149.7h0M235.3 2149.5h0M236.8 2149.3h0M244.2 2149h0M235.1 2148.6h0M243.6 2148.6h0M242.7 2148.1h0M247.4 2148h0M233.8 2147.8h0M243.1 2147.6h0M244.7 2147.5h0M247 2147.2h0M234.9 2146.9h0M237.5 2146.5h0M244.1 2146h0M249.3 2145.5h0M247.6 2145.1h0M248.4 2144.6h0M242.5 2144.1h0M245.1 2143.6h0M245.3 2143h0M236.4 2142.6h0M247.3 2142.2h0M236.6 2141.6h0M242 2141.3h0M244.5 2140.5h0M234.8 2140.1h0M238.5 2139.7h0M248.7 2139.4h0M239.3 2138.6h0M237.1 2138.1h0M241.1 2137.7h0M249.4 2137.4h0M244.8 2136.7h0M244 2136.3h0M244.8 2135.8h0M243.2 2135.5h0M237 2135h0M248.2 2134.7h0M242 2134h0M242.4 2133.7h0M244.9 2132.9h0M242.8 2132.5h0M233.9 2132.3h0M243.4 2131.8h0M248.8 2131h0M245.3 2130.6h0M234.8 2130.3h0M237.9 2129.6h0M248 2129.2h0M246.2 2129h0M242.6 2128.4h0M246.7 2127.9h0M248.2 2127.3h0M246.6 2126.8h0M241.7 2126.3h0M242.4 2125.9h0M234.3 2125.6h0M240.3 2125.1h0M244.9 2124.7h0M241.5 2124.1h0M247.2 2123.3h0M241.4 2123.1h0M234.3 2122.8h0M234.6 2122.1h0M235.8 2121.5h0M245.7 2121.3h0M245.6 2120.9h0M241.5 2120.4h0M237.7 2119.8h0M247.1 2119.3h0M237.1 2118.9h0M240.1 2118.3h0M242.1 2117.9h0M237.7 2117.3h0M242.6 2116.9h0M238 2116.3h0M239.1 2116.1h0M240.9 2115.3h0M242.5 2115.1h0M238.1 2114.7h0M241.5 2113.8h0M235.6 2113.5h0M249.2 2113.3h0M245.7 2112.8h0M243.2 2112.3h0M237.1 2111.7h0M249.6 2111.2h0M245.1 2110.7h0M248.4 2110.5h0M243 2109.8h0M237.1 2109.3h0M245.8 2108.9h0M245.7 2108.1h0M242.7 2107.6h0M242.4 2107.5h0M234.4 2107.1h0M242.3 2106.6h0M242.1 2105.8h0M243 2105.5h0M244.5 2105.2h0M234.2 2104.4h0M243 2103.8h0M234.6 2103.6h0M244.7 2103h0M237.2 2102.4h0M248.9 2102.3h0M240.8 2101.4h0M236.9 2101.1h0M249.2 2100.6h0M239.3 2100.4h0M236.9 2099.6h0M243 2099.2h0M240.9 2098.7h0M246.7 2098.1h0M237.7 2097.8h0M249.5 2097.2h0M235 2096.9h0M243.7 2096.5h0M248.7 2095.8h0M240.5 2095.5h0M247.3 2094.9h0M243.9 2094.5h0M246.4 2094.1h0M238.4 2093.7h0M243.8 2093.3h0M247.5 2092.9h0M246.6 2092.2h0M234.9 2091.7h0M243.3 2091h0M247.6 2090.7h0M240.9 2090.1h0M243.9 2089.8h0M235.5 2089.5h0M248 2088.9h0M248.2 2088.2h0M244.4 2087.7h0M241.3 2087.6h0M240.8 2086.9h0M242.2 2086.5h0M235.4 2085.9h0M234.4 2085.6h0M239.5 2084.8h0M236.5 2084.3h0M234.2 2084h0M239.8 2083.2h0M245.2 2083h0M237.3 2082.2h0M248.8 2081.9h0M248.3 2081.4h0M247.7 2080.6h0M247 2080h0M248 2079.7h0M247.2 2079.3h0M243.3 2078.4h0M246 2078.1h0M240.8 2077.6h0M244.4 2076.8h0M248.1 2076.4h0M245.8 2076.1h0M240.5 2075.3h0M236.8 2075.1h0M234 2074.4h0M245.1 2073.5h0M239.5 2073.2h0M236.6 2072.7h0M241 2072.1h0M238.2 2071.6h0M237.5 2071.3h0M235.1 2070.5h0M239.5 2070.2h0M249.5 2069.5h0M243.5 2068.9h0M242 2068.3h0M247.7 2068.1h0M236.2 2067.2h0M244.8 2066.9h0M249 2066.3h0M245.6 2065.8h0M236.6 2065.4h0M243.2 2064.9h0M245.5 2064.4h0M243.1 2063.6h0M246.4 2063.1h0M236.2 2062.8h0M248.9 2062.1h0M245.2 2061.4h0M235.7 2061.2h0M247.7 2060.4h0M235.7 2059.8h0M234.5 2059.2h0M248.3 2059h0M241.7 2058.3h0M248.8 2057.8h0M239.4 2057.2h0M235.5 2056.9h0M237.2 2056.1h0M238.8 2055.7h0M235.7 2054.9h0M248.3 2054.3h0M236 2053.9h0M242.2 2053.5h0M241.4 2053h0M246.3 2052.5h0M243.6 2051.8h0M238.2 2051.4h0M236.5 2050.8h0M239.2 2050.3h0M242.7 2049.9h0M241.6 2049.3h0M245.9 2048.8h0M239.6 2048h0M245.8 2047.6h0M247.5 2046.9h0M246.3 2046.8h0M233.9 2046.2h0M237.3 2045.5h0M243.5 2045.2h0M238.6 2044.2h0M239.9 2043.8h0M246 2043.5h0M239.5 2042.6h0M244.5 2042.5h0M241.4 2041.6h0M246.1 2041h0M239.5 2040.9h0M236.2 2040.1h0M248.8 2039.7h0M234.9 2039.3h0M247.1 2038.3h0M236.6 2038.1h0M240.7 2037.6h0M234.7 2036.9h0M234.4 2036.5h0M238.9 2035.9h0M239.8 2035.4h0M247 2035h0M248 2034.3h0M235.7 2033.5h0M249 2033.2h0M247.9 2032.6h0M246.3 2032.3h0M245.5 2031.8h0M239.9 2031.2h0M238 2030.7h0M239.3 2030.2h0M245.6 2029.3h0M249.4 2029.2h0M243.8 2028.5h0M244.9 2027.7h0M248.3 2027.3h0M234.1 2026.9h0M239.1 2026.2h0M242.8 2025.9h0M242.7 2025.3h0M236.5 2024.7h0M240 2024.1h0M237.4 2023.5h0M247 2022.9h0M235 2022.8h0M246 2021.9h0M236.7 2021.8h0M242.5 2021.2h0M239.6 2020.5h0M243.4 2020.1h0M240.4 2019.1h0M235.1 2018.7h0M240.8 2018.1h0M243.5 2017.9h0M244.1 2017.4h0M244.2 2016.6h0M239 2016.3h0M249 2016.3h0M245.6 2016.3h0M240.6 2016.3h0M240 2016.3h0M244.5 2016.3h0M248.1 2016.3h0M244.8 2016.2h0M238.1 2016.2h0M242.7 2016.2h0M236.1 2016.2h0M235.3 2016.1h0M237.1 2016h0M241.8 2016h0M239.5 2016h0M236 2015.9h0M238.2 2015.7h0M234 2015.6h0M240.6 2015.6h0M245 2015.4h0M234.4 2015.3h0M234.4 2015.1h0M236 2014.9h0M239 2014.9h0M238.8 2014.6h0M241.7 2014.4h0M249.3 2014.3h0M234.9 2013.9h0M246.8 2013.7h0M248 2013.6h0M243.6 2013.2h0M248 2012.8h0M240.3 2012.5h0M245.5 2012.4h0M248.5 2012h0M244.6 2011.7h0M235.5 2010.9h0M245.3 2010.5h0M238.1 2010.3h0M237.1 2009.6h0M248.3 2009.6h0M237.1 2009h0M248.9 2008.4h0M237.6 2007.5h0M246 2007.2h0M248.9 2006.7h0M247.7 2006.3h0M246.2 2005.5h0M248.1 2004.6h0M242.1 2004.3h0M235.5 2003.3h0M236.9 2002.7h0M246.2 2002.1h0M246.9 2001.1h0M236 2000.1h0M246.7 1999.4h0M236.7 1998.6h0M249.5 1997.5h0M244.6 1996.5h0M241.5 1995.5h0M246.9 1994.6h0M245.6 1993.5h0M241.6 1992.3h0M241.2 1992.2h0M238.5 1990.4h0M245 1989.6h0M237 1988.8h0M249.4 1987.2h0M248.7 1985.4h0M238.3 1984h0M238.4 1983.5h0M242.5 1981.4h0M249.4 1980.9h0M240.4 1979.2h0M240.5 1978.3h0M242 1976h0M247.1 1975h0M241.6 1973.7h0M236.4 1970.9h0M236.5 1970.7h0M242.4 1969.1h0M247.8 1965.9h0M240.4 1964.2h0M235.7 1964.1h0M236.7 1960.6h0M237.4 1958.7h0M244.9 1957.7h0M245 1955.2h0M247 1952.8h0M234.2 1951.2h0M247.8 1950.6h0M243 1947.4h0M236.6 1945.1h0M238.5 1942.3h0M243.6 1941.6h0M245.1 1939.6h0M244.4 1936.6h0M244.3 1934.7h0M245.1 1932.8h0M248 1928.6h0M245 1927h0M248.5 1925.1h0M235.9 1923.1h0M240.2 1918.4h0M234.1 1916h0M237.6 1914.2h0M237.3 1912h0M235.4 1909.3h0M248.7 1904.1h0M234.3 1903.1h0M235.5 1900.7h0M246.7 1897.3h0M248.1 1892.6h0M239.8 1890h0M237.6 1886.8h0M243.8 1882.8h0M240.7 1880.2h0M247 1876.2h0M233.9 1872.8h0M246.8 1869.4h0M242.5 1867.2h0M241.9 1864.7h0M235.2 1861h0M242.4 1857.2h0M240.7 1853.1h0M247.2 1849.6h0M245.5 1846.7h0M235.2 1840.4h0M243.4 1836.2h0M239.2 1834.6h0" stroke="#000" stroke-width="2.5" stroke-linecap="round" fill="none"/>
<line x1="309.7" y1="2158.2" x2="309.7" y2="2174.6" stroke="#222" stroke-width="1" stroke-dasharray="3 3"/>
<line x1="296" y1="2158.2" x2="322.2" y2="2158.2" stroke="#333" stroke-width="1.1" />
<rect x="281.8" y="2174.6" width="54.1" height="21.7" fill="#7f7f7f" stroke="#241010" stroke-width="1.1"/>
<line x1="281.8" y1="2190.6" x2="335.9" y2="2190.6" stroke="#100000" stroke-width="2.6" />
<line x1="281.8" y1="2195.6" x2="335.9" y2="2195.6" stroke="#000" stroke-width="3.2" />
<path d="M311 2195.6h0M311.5 2195.7h0M305.8 2195.8h0M308.8 2195.9h0M312 2196h0M305.4 2196.1h0M308.3 2196.1h0M316.2 2196.2h0M311.4 2196.2h0M315.6 2196.3h0M308.2 2196.3h0M309.2 2196h0M312.7 2195.4h0M306.2 2195.1h0M313.8 2194.3h0M305.3 2193.9h0M309.3 2193.5h0M312.5 2193h0M304.7 2192.6h0M303 2191.9h0M305.5 2191.4h0M310.2 2191h0M311.2 2189.6h0M315.4 2189h0M307.1 2186.5h0M313.1 2185.1h0M304.5 2184.2h0M307.3 2182.8h0M315.8 2181.7h0M316.5 2179.2h0M313.9 2178.5h0M309.1 2176.1h0M306.6 2174.7h0M308.9 2174.5h0M301.7 2174.4h0M301.9 2173.7h0M308.2 2173h0M309.2 2172.7h0M307.2 2170.9h0M303.6 2169.4h0M307.3 2166.7h0M301.5 2165.1h0M307.4 2162h0M309.5 2159.8h0M314.2 2083.2h0M305.1 2088.9h0M304.5 2126.6h0" stroke="#000" stroke-width="2.5" stroke-linecap="round" fill="none"/>
<path d="M241.1 1822.7V1814H267.9 M281.9 1814H309V2067.2" stroke="#555" stroke-width="1.1" fill="none"/>
<path d="M274.9 1813.7L274.9 1809.3M274.9 1813.7L270.7 1812.3M274.9 1813.7L272.3 1817.3M274.9 1813.7L277.5 1817.3M274.9 1813.7L279.1 1812.3" stroke="#e01e1e" stroke-width="1.9" stroke-linecap="round" fill="none"/>
<line x1="274.9" y1="2211.2" x2="274.9" y2="2218.7" stroke="#3a3a3a" stroke-width="1.2" />
<text x="274.9" y="2242.9" font-family="Liberation Serif" font-size="15.3" text-anchor="middle" font-weight="normal" fill="#111" >HNSC</text><text x="274.9" y="2261.4" font-family="Liberation Serif" font-size="15.3" text-anchor="middle" font-weight="normal" fill="#111" >(num(T)=519; num(N)=44)</text>
<line x1="428.7" y1="123.4" x2="428.7" y2="218.7" stroke="#dcdcdc" stroke-width="1"/>
<line x1="428.7" y1="123.4" x2="476.3" y2="123.4" stroke="#dcdcdc" stroke-width="1"/>
<line x1="428.7" y1="218.7" x2="476.3" y2="218.7" stroke="#dcdcdc" stroke-width="1"/>
<text x="445.9" y="150.8" font-family="Liberation Sans" font-size="36" fill="#000">b</text>
<rect x="477" y="141.7" width="271.2" height="413.6" fill="none" stroke="#0a0a0a" stroke-width="2.1"/>
<line x1="461.4" y1="555.3" x2="477" y2="555.3" stroke="#0a0a0a" stroke-width="2.1" />
<text x="457.8" y="559.9" font-family="Liberation Sans" font-size="15" text-anchor="end" font-weight="bold" fill="#111" >0</text>
<line x1="461.4" y1="503.8" x2="477" y2="503.8" stroke="#0a0a0a" stroke-width="2.1" />
<text x="457.8" y="508.4" font-family="Liberation Sans" font-size="15" text-anchor="end" font-weight="bold" fill="#111" >2</text>
<line x1="461.4" y1="452.2" x2="477" y2="452.2" stroke="#0a0a0a" stroke-width="2.1" />
<text x="457.8" y="456.8" font-family="Liberation Sans" font-size="15" text-anchor="end" font-weight="bold" fill="#111" >4</text>
<line x1="461.4" y1="400.7" x2="477" y2="400.7" stroke="#0a0a0a" stroke-width="2.1" />
<text x="457.8" y="405.3" font-family="Liberation Sans" font-size="15" text-anchor="end" font-weight="bold" fill="#111" >6</text>
<line x1="461.4" y1="349.1" x2="477" y2="349.1" stroke="#0a0a0a" stroke-width="2.1" />
<text x="457.8" y="353.7" font-family="Liberation Sans" font-size="15" text-anchor="end" font-weight="bold" fill="#111" >8</text>
<line x1="461.4" y1="297.6" x2="477" y2="297.6" stroke="#0a0a0a" stroke-width="2.1" />
<text x="457.8" y="302.2" font-family="Liberation Sans" font-size="15" text-anchor="end" font-weight="bold" fill="#111" >10</text>
<line x1="461.4" y1="246.1" x2="477" y2="246.1" stroke="#0a0a0a" stroke-width="2.1" />
<text x="457.8" y="250.7" font-family="Liberation Sans" font-size="15" text-anchor="end" font-weight="bold" fill="#111" >12</text>
<text transform="translate(422.6 350.8) rotate(-90)" font-family="Liberation Serif" font-size="18.1" text-anchor="middle" dominant-baseline="central" fill="#111">Expression −log<tspan font-size="11.8" dy="3.3">2</tspan><tspan dy="-3.3">(TPM+1)</tspan></text>
<line x1="578.6" y1="206.4" x2="578.6" y2="409.8" stroke="#000" stroke-width="2" />
<line x1="562.7" y1="206.4" x2="595.1" y2="206.4" stroke="#000" stroke-width="2.4" />
<line x1="562.7" y1="409.8" x2="595.1" y2="409.8" stroke="#000" stroke-width="2.4" />
<rect x="544.8" y="264" width="67.4" height="60.5" fill="#fd6464" stroke="#0a0a0a" stroke-width="2"/>
<line x1="544.8" y1="281.6" x2="612.2" y2="281.6" stroke="#000" stroke-width="2" />
<path d="M578.2 206.2h0M578.4 216.4h0M578.8 224.5h0M578.3 248.3h0M578.9 250.2h0M578.4 258.8h0M578.2 260.7h0M578.6 263.6h0M578.3 267.4h0M578.2 271.2h0M578.4 274h0M578.6 276.9h0M578.4 278.8h0M578.9 286.9h0M578.4 296h0M578.8 297.9h0M578.5 305.5h0M578.3 316h0M578.5 317.9h0M578.7 319.8h0M578.6 322.6h0M578.7 328.3h0M578.3 330.2h0M578.3 334h0M578.3 346.4h0M578.6 363.6h0M578.9 365.5h0M578.5 367.4h0M578.9 407.4h0" stroke="#000" stroke-width="5.6" stroke-linecap="round" fill="none"/>
<line x1="680.3" y1="401.1" x2="680.3" y2="549.6" stroke="#000" stroke-width="2" />
<line x1="663.7" y1="401.1" x2="696.8" y2="401.1" stroke="#000" stroke-width="2.4" />
<line x1="663.7" y1="549.6" x2="696.8" y2="549.6" stroke="#000" stroke-width="2.4" />
<rect x="646.5" y="477.6" width="67.4" height="51.4" fill="#7f7f7f" stroke="#0a0a0a" stroke-width="2"/>
<line x1="646.5" y1="513" x2="713.9" y2="513" stroke="#000" stroke-width="2" />
<path d="M680 400.4h0M680.1 405.8h0M680.4 465.8h0M680.5 472.2h0M680.5 474.2h0M680 476.2h0M680.3 478.9h0M680.1 482.3h0M680.5 488.8h0M680.4 504.7h0M680.5 507.4h0M680.5 510.1h0M680.7 512.8h0M680.3 515.5h0M680.7 518.2h0M680.1 520.9h0M680.6 523.6h0M680 527h0M680.5 530.4h0M680.6 533.1h0M680.3 539.2h0M680.2 545.3h0M680.6 548h0M680.6 550h0" stroke="#000" stroke-width="5.6" stroke-linecap="round" fill="none"/>
<line x1="578.6" y1="555.3" x2="578.6" y2="561.8" stroke="#0a0a0a" stroke-width="2.1" />
<line x1="680.3" y1="555.3" x2="680.3" y2="561.8" stroke="#0a0a0a" stroke-width="2.1" />
<path d="M578 187.4V176H617.2 M634.8 176H677.4V385.1" stroke="#111" stroke-width="2" fill="none"/>
<path d="M626 172.9L626 183.7M621.3 175.6L630.7 181M621.3 181L630.7 175.6" stroke="#cc2228" stroke-width="1.6" stroke-linecap="round" fill="none"/>
<text x="601" y="584.8" font-family="Liberation Serif" font-size="15.3" text-anchor="middle" font-weight="normal" fill="#111" >OSCC</text><text x="601" y="602.9" font-family="Liberation Serif" font-size="15.3" text-anchor="middle" font-weight="normal" fill="#111" >(num(T)=30; num(N)=26)</text>
<line x1="1141.4" y1="118.9" x2="1141.4" y2="171.4" stroke="#dcdcdc" stroke-width="1"/>
<line x1="1141.4" y1="171.4" x2="1160.9" y2="171.4" stroke="#dcdcdc" stroke-width="1"/>
<line x1="1160.9" y1="171.4" x2="1160.9" y2="198.4" stroke="#dcdcdc" stroke-width="1"/>
<line x1="1160.9" y1="198.4" x2="1203.1" y2="198.4" stroke="#dcdcdc" stroke-width="1"/>
<text x="1155.2" y="144" font-family="Liberation Sans" font-size="36" fill="#000">b</text>
<rect x="1205" y="147" width="272.5" height="406" fill="none" stroke="#0a0a0a" stroke-width="2.1"/>
<line x1="1189" y1="553" x2="1205" y2="553" stroke="#0a0a0a" stroke-width="2.1" />
<text x="1184.2" y="557.6" font-family="Liberation Sans" font-size="15" text-anchor="end" font-weight="bold" fill="#111" >0</text>
<line x1="1189" y1="495" x2="1205" y2="495" stroke="#0a0a0a" stroke-width="2.1" />
<text x="1184.2" y="499.6" font-family="Liberation Sans" font-size="15" text-anchor="end" font-weight="bold" fill="#111" >2</text>
<line x1="1189" y1="437.1" x2="1205" y2="437.1" stroke="#0a0a0a" stroke-width="2.1" />
<text x="1184.2" y="441.7" font-family="Liberation Sans" font-size="15" text-anchor="end" font-weight="bold" fill="#111" >4</text>
<line x1="1189" y1="379.1" x2="1205" y2="379.1" stroke="#0a0a0a" stroke-width="2.1" />
<text x="1184.2" y="383.7" font-family="Liberation Sans" font-size="15" text-anchor="end" font-weight="bold" fill="#111" >6</text>
<line x1="1189" y1="321.2" x2="1205" y2="321.2" stroke="#0a0a0a" stroke-width="2.1" />
<text x="1184.2" y="325.8" font-family="Liberation Sans" font-size="15" text-anchor="end" font-weight="bold" fill="#111" >8</text>
<line x1="1189" y1="263.2" x2="1205" y2="263.2" stroke="#0a0a0a" stroke-width="2.1" />
<text x="1184.2" y="267.8" font-family="Liberation Sans" font-size="15" text-anchor="end" font-weight="bold" fill="#111" >10</text>
<line x1="1189" y1="205.2" x2="1205" y2="205.2" stroke="#0a0a0a" stroke-width="2.1" />
<text x="1184.2" y="209.8" font-family="Liberation Sans" font-size="15" text-anchor="end" font-weight="bold" fill="#111" >12</text>
<text transform="translate(1152.9 350.8) rotate(-90)" font-family="Liberation Serif" font-size="18.1" text-anchor="middle" dominant-baseline="central" fill="#111">Expression −log<tspan font-size="11.8" dy="3.3">2</tspan><tspan dy="-3.3">(TPM+1)</tspan></text>
<line x1="1282.7" y1="242.2" x2="1282.7" y2="475.3" stroke="#000" stroke-width="2" />
<line x1="1263.7" y1="242.2" x2="1302.5" y2="242.2" stroke="#000" stroke-width="2.4" />
<line x1="1263.7" y1="475.3" x2="1302.5" y2="475.3" stroke="#000" stroke-width="2.4" />
<rect x="1243.6" y="304.6" width="78.4" height="85" fill="#fd6464" stroke="#0a0a0a" stroke-width="2"/>
<line x1="1243.6" y1="343.3" x2="1322" y2="343.3" stroke="#000" stroke-width="2" />
<path d="M1282.4 241.9h0M1282.6 263.9h0M1282.3 284.5h0M1282.5 287.3h0M1282.9 295.5h0M1282.9 298.3h0M1282.7 302.4h0M1282.9 305.2h0M1282.7 321.7h0M1283 325.8h0M1282.8 329.9h0M1282.4 334h0M1282.8 336.8h0M1282.7 340.9h0M1282.7 343.7h0M1282.5 356.7h0M1282.9 361.5h0M1282.5 373.2h0M1282.5 376h0M1282.5 378.7h0M1282.5 381.5h0M1282.4 384.2h0M1282.9 387.7h0M1282.8 391.8h0M1282.3 393.9h0M1282.8 410.4h0M1282.4 414.5h0M1282.8 417.9h0M1282.6 475h0" stroke="#000" stroke-width="5.6" stroke-linecap="round" fill="none"/>
<line x1="1400.8" y1="456.6" x2="1400.8" y2="553" stroke="#000" stroke-width="2" />
<line x1="1381.4" y1="456.6" x2="1419.8" y2="456.6" stroke="#000" stroke-width="2.4" />
<rect x="1361.3" y="505.5" width="78.3" height="47.5" fill="#7f7f7f" stroke="#0a0a0a" stroke-width="2"/>
<line x1="1361.3" y1="529.7" x2="1439.6" y2="529.7" stroke="#000" stroke-width="2" />
<path d="M1400.8 456.5h0M1401 462h0M1401 482.6h0M1400.9 496.3h0M1400.6 503.2h0M1400.5 506.7h0M1400.9 513.5h0M1400.8 518.4h0M1401.1 521.1h0M1401.1 529.4h0M1400.6 537.6h0M1400.7 540.4h0M1401 552.7h0" stroke="#000" stroke-width="5.6" stroke-linecap="round" fill="none"/>
<line x1="1282.7" y1="553" x2="1282.7" y2="559.5" stroke="#0a0a0a" stroke-width="2.1" />
<line x1="1400.8" y1="553" x2="1400.8" y2="559.5" stroke="#0a0a0a" stroke-width="2.1" />
<path d="M1284.9 205.2V186H1333.7 M1351.3 186H1400.3V385.1" stroke="#111" stroke-width="2" fill="none"/>
<path d="M1342.5 180.2L1342.5 191M1337.8 182.9L1347.2 188.3M1337.8 188.3L1347.2 182.9" stroke="#cc2228" stroke-width="1.6" stroke-linecap="round" fill="none"/>
<text x="1342.3" y="584.6" font-family="Liberation Serif" font-size="15.3" text-anchor="middle" font-weight="normal" fill="#111" >OSCC</text><text x="1342.3" y="602.6" font-family="Liberation Serif" font-size="15.3" text-anchor="middle" font-weight="normal" fill="#111" >(num(T)=30; num(N)=26)</text>
<line x1="435.5" y1="684.6" x2="435.5" y2="733.2" stroke="#dcdcdc" stroke-width="1"/>
<line x1="435.5" y1="733.2" x2="495" y2="733.2" stroke="#dcdcdc" stroke-width="1"/>
<text x="444.5" y="708.1" font-family="Liberation Sans" font-size="36" fill="#000">b</text>
<rect x="495" y="713.6" width="254.1" height="382.3" fill="none" stroke="#0a0a0a" stroke-width="2.1"/>
<line x1="480.6" y1="1095.9" x2="495" y2="1095.9" stroke="#0a0a0a" stroke-width="2.1" />
<text x="475.4" y="1100.5" font-family="Liberation Sans" font-size="15" text-anchor="end" font-weight="bold" fill="#111" >0</text>
<line x1="480.6" y1="1019.5" x2="495" y2="1019.5" stroke="#0a0a0a" stroke-width="2.1" />
<text x="475.4" y="1024.1" font-family="Liberation Sans" font-size="15" text-anchor="end" font-weight="bold" fill="#111" >2</text>
<line x1="480.6" y1="943" x2="495" y2="943" stroke="#0a0a0a" stroke-width="2.1" />
<text x="475.4" y="947.6" font-family="Liberation Sans" font-size="15" text-anchor="end" font-weight="bold" fill="#111" >4</text>
<line x1="480.6" y1="866.6" x2="495" y2="866.6" stroke="#0a0a0a" stroke-width="2.1" />
<text x="475.4" y="871.2" font-family="Liberation Sans" font-size="15" text-anchor="end" font-weight="bold" fill="#111" >6</text>
<line x1="480.6" y1="790.1" x2="495" y2="790.1" stroke="#0a0a0a" stroke-width="2.1" />
<text x="475.4" y="794.7" font-family="Liberation Sans" font-size="15" text-anchor="end" font-weight="bold" fill="#111" >8</text>
<text transform="translate(447.4 917.6) rotate(-90)" font-family="Liberation Serif" font-size="18.1" text-anchor="middle" dominant-baseline="central" fill="#111">Expression −log<tspan font-size="11.8" dy="3.3">2</tspan><tspan dy="-3.3">(TPM+1)</tspan></text>
<line x1="567.4" y1="790.1" x2="567.4" y2="995.3" stroke="#000" stroke-width="2" />
<line x1="549.1" y1="790.1" x2="584.5" y2="790.1" stroke="#000" stroke-width="2.4" />
<line x1="549.1" y1="995.3" x2="584.5" y2="995.3" stroke="#000" stroke-width="2.4" />
<rect x="531.3" y="855.3" width="71.5" height="76.7" fill="#fd6464" stroke="#0a0a0a" stroke-width="2"/>
<line x1="531.3" y1="880.6" x2="602.8" y2="880.6" stroke="#000" stroke-width="2" />
<path d="M567.6 790.2h0M567.5 792.9h0M567.3 795.6h0M567.2 815.2h0M567.5 840.3h0M567.8 843.7h0M567.3 859.9h0M567.7 862.6h0M567 864.6h0M567.4 878.2h0M567.2 880.2h0M567.4 887.7h0M567.5 902.6h0M567.7 913.4h0M567.4 932.4h0M567.7 941.2h0M567.3 945.9h0M567.1 967.6h0M567.4 980.4h0M567.6 983.1h0M567.6 994.7h0" stroke="#000" stroke-width="5.6" stroke-linecap="round" fill="none"/>
<line x1="676.4" y1="1001.7" x2="676.4" y2="1095.9" stroke="#000" stroke-width="2" />
<line x1="658.8" y1="1001.7" x2="694.2" y2="1001.7" stroke="#000" stroke-width="2.4" />
<rect x="639.8" y="1048.4" width="72.7" height="47.5" fill="#7f7f7f" stroke="#0a0a0a" stroke-width="2"/>
<path d="M676 1002.1h0M676.2 1022.4h0M676.2 1027.8h0M676.4 1042h0M676.7 1046.1h0M676.2 1063h0M676 1073.9h0M676.7 1076.6h0M676.7 1079.3h0M676.6 1088.1h0M676 1095.6h0" stroke="#000" stroke-width="5.6" stroke-linecap="round" fill="none"/>
<line x1="567.4" y1="1095.9" x2="567.4" y2="1102.4" stroke="#0a0a0a" stroke-width="2.1" />
<line x1="676.4" y1="1095.9" x2="676.4" y2="1102.4" stroke="#0a0a0a" stroke-width="2.1" />
<path d="M566.7 765.7V751.3H610.7 M628.3 751.3H675.9V971.4" stroke="#111" stroke-width="2" fill="none"/>
<path d="M619.5 747.1L619.5 757.9M614.8 749.8L624.2 755.2M614.8 755.2L624.2 749.8" stroke="#cc2228" stroke-width="1.6" stroke-linecap="round" fill="none"/>
<text x="608.9" y="1120.2" font-family="Liberation Serif" font-size="15.3" text-anchor="middle" font-weight="normal" fill="#111" >OSCC</text><text x="608.9" y="1138.6" font-family="Liberation Serif" font-size="15.3" text-anchor="middle" font-weight="normal" fill="#111" >(num(T)=30; num(N)=26)</text>
<line x1="1136.9" y1="691.4" x2="1136.9" y2="740.5" stroke="#dcdcdc" stroke-width="1"/>
<line x1="1136.9" y1="740.5" x2="1191.7" y2="740.5" stroke="#dcdcdc" stroke-width="1"/>
<text x="1148.3" y="712.7" font-family="Liberation Sans" font-size="36" fill="#000">b</text>
<rect x="1195.8" y="705.6" width="274.7" height="394.9" fill="none" stroke="#0a0a0a" stroke-width="2.1"/>
<line x1="1179.8" y1="1100.5" x2="1195.8" y2="1100.5" stroke="#0a0a0a" stroke-width="2.1" />
<text x="1174" y="1105.1" font-family="Liberation Sans" font-size="15" text-anchor="end" font-weight="bold" fill="#111" >0</text>
<line x1="1179.8" y1="1001.7" x2="1195.8" y2="1001.7" stroke="#0a0a0a" stroke-width="2.1" />
<text x="1174" y="1006.3" font-family="Liberation Sans" font-size="15" text-anchor="end" font-weight="bold" fill="#111" >2</text>
<line x1="1179.8" y1="902.9" x2="1195.8" y2="902.9" stroke="#0a0a0a" stroke-width="2.1" />
<text x="1174" y="907.5" font-family="Liberation Sans" font-size="15" text-anchor="end" font-weight="bold" fill="#111" >4</text>
<line x1="1179.8" y1="804.1" x2="1195.8" y2="804.1" stroke="#0a0a0a" stroke-width="2.1" />
<text x="1174" y="808.7" font-family="Liberation Sans" font-size="15" text-anchor="end" font-weight="bold" fill="#111" >6</text>
<text transform="translate(1144.9 911.9) rotate(-90)" font-family="Liberation Serif" font-size="18.1" text-anchor="middle" dominant-baseline="central" fill="#111">Expression −log<tspan font-size="11.8" dy="3.3">2</tspan><tspan dy="-3.3">(TPM+1)</tspan></text>
<line x1="1274" y1="753.1" x2="1274" y2="992.4" stroke="#000" stroke-width="2" />
<line x1="1254.5" y1="753.1" x2="1293.4" y2="753.1" stroke="#000" stroke-width="2.4" />
<line x1="1254.5" y1="992.4" x2="1293.4" y2="992.4" stroke="#000" stroke-width="2.4" />
<rect x="1235.1" y="799.3" width="78.2" height="130.5" fill="#fd6464" stroke="#0a0a0a" stroke-width="2"/>
<line x1="1235.1" y1="877.7" x2="1313.3" y2="877.7" stroke="#000" stroke-width="2" />
<path d="M1273.7 753.3h0M1274.3 756.3h0M1274.1 759.3h0M1273.8 784.8h0M1274.2 789.3h0M1274.1 793.1h0M1274.3 800.6h0M1274.1 814.1h0M1274.2 835.1h0M1274.2 862.2h0M1273.9 865.2h0M1273.7 874.2h0M1274.3 877.2h0M1273.7 880.2h0M1274 884.7h0M1274.4 902h0M1273.9 919.3h0M1273.8 922.3h0M1273.9 925.3h0M1273.8 937.3h0M1274.2 962.1h0M1273.8 965.8h0M1273.7 970.3h0M1274.1 974.1h0M1273.8 992.1h0" stroke="#000" stroke-width="5.6" stroke-linecap="round" fill="none"/>
<line x1="1392.1" y1="993.1" x2="1392.1" y2="1085.2" stroke="#000" stroke-width="2" />
<line x1="1372.7" y1="993.1" x2="1410.6" y2="993.1" stroke="#000" stroke-width="2.4" />
<line x1="1372.7" y1="1085.2" x2="1410.6" y2="1085.2" stroke="#000" stroke-width="2.4" />
<rect x="1352.8" y="1034.7" width="78.8" height="38.3" fill="#7f7f7f" stroke="#0a0a0a" stroke-width="2"/>
<line x1="1352.8" y1="1061.6" x2="1431.6" y2="1061.6" stroke="#000" stroke-width="2" />
<path d="M1391.8 992.9h0M1391.7 1000.4h0M1392.4 1007.9h0M1392 1015.4h0M1392.2 1019.9h0M1392.1 1024.4h0M1392.4 1038h0M1391.8 1041h0M1392.2 1048.5h0M1392.4 1056h0M1391.9 1060.5h0M1392 1065h0M1392 1069.5h0M1392 1074h0M1392.5 1078.5h0M1391.9 1083h0M1392.3 1086h0" stroke="#000" stroke-width="5.6" stroke-linecap="round" fill="none"/>
<line x1="1274" y1="1100.5" x2="1274" y2="1107" stroke="#0a0a0a" stroke-width="2.1" />
<line x1="1392.1" y1="1100.5" x2="1392.1" y2="1107" stroke="#0a0a0a" stroke-width="2.1" />
<path d="M1274 742.8V736H1324.1 M1341.7 736H1392.1V963.4" stroke="#111" stroke-width="2" fill="none"/>
<path d="M1332.9 732.1L1332.9 742.9M1328.2 734.8L1337.6 740.2M1328.2 740.2L1337.6 734.8" stroke="#cc2228" stroke-width="1.6" stroke-linecap="round" fill="none"/>
<path d="M1328.6 708h6" stroke="#d42020" stroke-width="1.5"/>
<text x="1326" y="1126.2" font-family="Liberation Serif" font-size="15.3" text-anchor="middle" font-weight="normal" fill="#111" >OSCC</text><text x="1326" y="1145" font-family="Liberation Serif" font-size="15.3" text-anchor="middle" font-weight="normal" fill="#111" >(num(T)=30; num(N)=26)</text>
<line x1="420.3" y1="1279.1" x2="470.6" y2="1279.1" stroke="#dcdcdc" stroke-width="1"/>
<line x1="420.3" y1="1298.8" x2="470.6" y2="1298.8" stroke="#dcdcdc" stroke-width="1"/>
<line x1="435.1" y1="1350" x2="470.6" y2="1350" stroke="#dcdcdc" stroke-width="1"/>
<text x="412.8" y="1261.6" font-family="Liberation Sans" font-size="36" fill="#000">b</text>
<rect x="470.6" y="1268.4" width="276.5" height="385.5" fill="none" stroke="#0a0a0a" stroke-width="2.1"/>
<line x1="455.7" y1="1653.9" x2="470.6" y2="1653.9" stroke="#0a0a0a" stroke-width="2.1" />
<text x="450.5" y="1658.5" font-family="Liberation Sans" font-size="15" text-anchor="end" font-weight="bold" fill="#111" >0</text>
<line x1="455.7" y1="1598.7" x2="470.6" y2="1598.7" stroke="#0a0a0a" stroke-width="2.1" />
<text x="450.5" y="1603.3" font-family="Liberation Sans" font-size="15" text-anchor="end" font-weight="bold" fill="#111" >2</text>
<line x1="455.7" y1="1543.6" x2="470.6" y2="1543.6" stroke="#0a0a0a" stroke-width="2.1" />
<text x="450.5" y="1548.2" font-family="Liberation Sans" font-size="15" text-anchor="end" font-weight="bold" fill="#111" >4</text>
<line x1="455.7" y1="1488.4" x2="470.6" y2="1488.4" stroke="#0a0a0a" stroke-width="2.1" />
<text x="450.5" y="1493" font-family="Liberation Sans" font-size="15" text-anchor="end" font-weight="bold" fill="#111" >6</text>
<line x1="455.7" y1="1433.3" x2="470.6" y2="1433.3" stroke="#0a0a0a" stroke-width="2.1" />
<text x="450.5" y="1437.9" font-family="Liberation Sans" font-size="15" text-anchor="end" font-weight="bold" fill="#111" >8</text>
<line x1="455.7" y1="1378.1" x2="470.6" y2="1378.1" stroke="#0a0a0a" stroke-width="2.1" />
<text x="450.5" y="1382.7" font-family="Liberation Sans" font-size="15" text-anchor="end" font-weight="bold" fill="#111" >10</text>
<text transform="translate(420.3 1471.8) rotate(-90)" font-family="Liberation Serif" font-size="18.1" text-anchor="middle" dominant-baseline="central" fill="#111">Expression −log<tspan font-size="11.8" dy="3.3">2</tspan><tspan dy="-3.3">(TPM+1)</tspan></text>
<line x1="549.9" y1="1315.3" x2="549.9" y2="1596.3" stroke="#000" stroke-width="2" />
<line x1="530.7" y1="1315.3" x2="568.1" y2="1315.3" stroke="#000" stroke-width="2.4" />
<line x1="530.7" y1="1596.3" x2="568.1" y2="1596.3" stroke="#000" stroke-width="2.4" />
<rect x="510.5" y="1386.8" width="78.2" height="76.5" fill="#fd6464" stroke="#0a0a0a" stroke-width="2"/>
<line x1="510.5" y1="1413.1" x2="588.7" y2="1413.1" stroke="#000" stroke-width="2" />
<path d="M549.8 1315.5h0M549.6 1335h0M550 1351.6h0M549.6 1359.1h0M549.9 1364.3h0M549.8 1377.9h0M550.1 1383.1h0M549.6 1386.9h0M550.3 1389.1h0M549.6 1395.1h0M549.6 1398.1h0M550 1410.9h0M550.3 1413.2h0M550.2 1422.2h0M550.2 1425.2h0M549.6 1444.7h0M549.7 1451.5h0M549.7 1454.5h0M549.7 1457.5h0M549.6 1479.3h0M549.7 1493.5h0M549.8 1497.3h0M549.8 1500.3h0M550.1 1596.5h0" stroke="#000" stroke-width="5.6" stroke-linecap="round" fill="none"/>
<line x1="668.2" y1="1487.3" x2="668.2" y2="1648.9" stroke="#000" stroke-width="2" />
<line x1="649.5" y1="1487.3" x2="687.2" y2="1487.3" stroke="#000" stroke-width="2.4" />
<line x1="649.5" y1="1648.9" x2="687.2" y2="1648.9" stroke="#000" stroke-width="2.4" />
<rect x="628.9" y="1538.1" width="78.6" height="56.4" fill="#7f7f7f" stroke="#0a0a0a" stroke-width="2"/>
<line x1="628.9" y1="1571.2" x2="707.5" y2="1571.2" stroke="#000" stroke-width="2" />
<path d="M668.5 1487.5h0M667.9 1490.5h0M668.2 1513.1h0M668.4 1525.1h0M667.8 1533.4h0M668.6 1537.1h0M668.3 1540.1h0M668.2 1547.6h0M668.1 1555.1h0M668.5 1559.7h0M668.2 1561.9h0M668.2 1579.2h0M668.6 1593.5h0M667.9 1622h0M668.2 1627.3h0M668.5 1631h0M668.5 1639.3h0M668.4 1648.3h0" stroke="#000" stroke-width="5.6" stroke-linecap="round" fill="none"/>
<line x1="549.9" y1="1653.9" x2="549.9" y2="1660.4" stroke="#0a0a0a" stroke-width="2.1" />
<line x1="668.2" y1="1653.9" x2="668.2" y2="1660.4" stroke="#0a0a0a" stroke-width="2.1" />
<path d="M549.4 1302.7V1296.3H600.5 M618.1 1296.3H668.7V1459.2" stroke="#111" stroke-width="2" fill="none"/>
<path d="M609.3 1295L609.3 1305.8M604.6 1297.7L614 1303.1M604.6 1303.1L614 1297.7" stroke="#cc2228" stroke-width="1.6" stroke-linecap="round" fill="none"/>
<path d="M605.8 1270.5h6" stroke="#d42020" stroke-width="1.5"/>
<text x="600" y="1679.3" font-family="Liberation Serif" font-size="15.3" text-anchor="middle" font-weight="normal" fill="#111" >OSCC</text><text x="600" y="1697.7" font-family="Liberation Serif" font-size="15.3" text-anchor="middle" font-weight="normal" fill="#111" >(num(T)=30; num(N)=26)</text>
<text x="1155.3" y="1254.7" font-family="Liberation Sans" font-size="36" fill="#000">b</text>
<rect x="1216.6" y="1250.8" width="262.1" height="387.1" fill="none" stroke="#0a0a0a" stroke-width="2.1"/>
<line x1="1201.7" y1="1637.9" x2="1216.6" y2="1637.9" stroke="#0a0a0a" stroke-width="2.1" />
<text x="1196.5" y="1642.5" font-family="Liberation Sans" font-size="15" text-anchor="end" font-weight="bold" fill="#111" >0</text>
<line x1="1201.7" y1="1582.6" x2="1216.6" y2="1582.6" stroke="#0a0a0a" stroke-width="2.1" />
<text x="1196.5" y="1587.2" font-family="Liberation Sans" font-size="15" text-anchor="end" font-weight="bold" fill="#111" >2</text>
<line x1="1201.7" y1="1527.3" x2="1216.6" y2="1527.3" stroke="#0a0a0a" stroke-width="2.1" />
<text x="1196.5" y="1531.9" font-family="Liberation Sans" font-size="15" text-anchor="end" font-weight="bold" fill="#111" >4</text>
<line x1="1201.7" y1="1472" x2="1216.6" y2="1472" stroke="#0a0a0a" stroke-width="2.1" />
<text x="1196.5" y="1476.6" font-family="Liberation Sans" font-size="15" text-anchor="end" font-weight="bold" fill="#111" >6</text>
<line x1="1201.7" y1="1416.7" x2="1216.6" y2="1416.7" stroke="#0a0a0a" stroke-width="2.1" />
<text x="1196.5" y="1421.3" font-family="Liberation Sans" font-size="15" text-anchor="end" font-weight="bold" fill="#111" >8</text>
<line x1="1201.7" y1="1361.4" x2="1216.6" y2="1361.4" stroke="#0a0a0a" stroke-width="2.1" />
<text x="1196.5" y="1366" font-family="Liberation Sans" font-size="15" text-anchor="end" font-weight="bold" fill="#111" >10</text>
<line x1="1201.7" y1="1306.1" x2="1216.6" y2="1306.1" stroke="#0a0a0a" stroke-width="2.1" />
<text x="1196.5" y="1310.7" font-family="Liberation Sans" font-size="15" text-anchor="end" font-weight="bold" fill="#111" >12</text>
<line x1="1201.7" y1="1250.8" x2="1216.6" y2="1250.8" stroke="#0a0a0a" stroke-width="2.1" />
<text x="1196.5" y="1255.4" font-family="Liberation Sans" font-size="15" text-anchor="end" font-weight="bold" fill="#111" >14</text>
<text transform="translate(1164 1470.7) rotate(-90)" font-family="Liberation Serif" font-size="18.1" text-anchor="middle" dominant-baseline="central" fill="#111">Expression −log<tspan font-size="11.8" dy="3.3">2</tspan><tspan dy="-3.3">(TPM+1)</tspan></text>
<line x1="1292" y1="1293.5" x2="1292" y2="1516.4" stroke="#000" stroke-width="2" />
<line x1="1274.4" y1="1293.5" x2="1310.2" y2="1293.5" stroke="#000" stroke-width="2.4" />
<line x1="1274.4" y1="1516.4" x2="1310.2" y2="1516.4" stroke="#000" stroke-width="2.4" />
<rect x="1254.3" y="1370.8" width="75.4" height="59.4" fill="#fd6464" stroke="#0a0a0a" stroke-width="2"/>
<line x1="1254.3" y1="1394.8" x2="1329.7" y2="1394.8" stroke="#000" stroke-width="2" />
<path d="M1291.9 1293.5h0M1292.2 1300.7h0M1292 1305.3h0M1292 1320.4h0M1292.3 1344.7h0M1291.8 1369h0M1292.4 1372.2h0M1292 1375.5h0M1291.7 1378.8h0M1292.2 1382.7h0M1291.8 1385.4h0M1292.4 1393.2h0M1292.1 1395.8h0M1291.8 1402.4h0M1292.4 1405h0M1291.9 1418.8h0M1292.4 1421.4h0M1291.6 1430h0M1291.8 1433.2h0M1292.1 1448.3h0M1291.8 1458.2h0M1291.9 1473.9h0M1291.7 1500.1h0M1292.1 1517.2h0" stroke="#000" stroke-width="5.6" stroke-linecap="round" fill="none"/>
<line x1="1404.6" y1="1466.1" x2="1404.6" y2="1587.2" stroke="#000" stroke-width="2" />
<line x1="1385.7" y1="1466.1" x2="1422.9" y2="1466.1" stroke="#000" stroke-width="2.4" />
<line x1="1385.7" y1="1587.2" x2="1422.9" y2="1587.2" stroke="#000" stroke-width="2.4" />
<rect x="1367.8" y="1499.7" width="73.4" height="47.5" fill="#7f7f7f" stroke="#0a0a0a" stroke-width="2"/>
<line x1="1367.8" y1="1521.6" x2="1441.2" y2="1521.6" stroke="#000" stroke-width="2" />
<path d="M1404.9 1466.7h0M1404.4 1472.6h0M1404.7 1479.2h0M1404.6 1481.8h0M1404.8 1489.6h0M1405 1497.5h0M1404.6 1501.4h0M1404.5 1506.7h0M1404.6 1510h0M1404.8 1512.6h0M1405 1515.9h0M1405 1519.8h0M1404.4 1525.1h0M1404.3 1529h0M1405 1532.3h0M1404.4 1540.1h0M1404.7 1548h0M1404.3 1559.2h0M1404.6 1565.1h0M1404.8 1576.2h0M1405 1584.7h0M1404.5 1587.4h0" stroke="#000" stroke-width="5.6" stroke-linecap="round" fill="none"/>
<line x1="1292" y1="1637.9" x2="1292" y2="1644.4" stroke="#0a0a0a" stroke-width="2.1" />
<line x1="1404.6" y1="1637.9" x2="1404.6" y2="1644.4" stroke="#0a0a0a" stroke-width="2.1" />
<path d="M1291.8 1285.7V1278.4H1339.8 M1357.4 1278.4H1405.1V1448.3" stroke="#111" stroke-width="2" fill="none"/>
<path d="M1348.6 1279L1348.6 1289.8M1343.9 1281.7L1353.3 1287.1M1343.9 1287.1L1353.3 1281.7" stroke="#cc2228" stroke-width="1.6" stroke-linecap="round" fill="none"/>
<path d="M1345 1253.5h6" stroke="#d42020" stroke-width="1.5"/>
<text x="1342.5" y="1670" font-family="Liberation Serif" font-size="15.3" text-anchor="middle" font-weight="normal" fill="#111" >OSCC</text><text x="1342.5" y="1688.4" font-family="Liberation Serif" font-size="15.3" text-anchor="middle" font-weight="normal" fill="#111" >(num(T)=30; num(N)=26)</text>
<text x="418.5" y="1809" font-family="Liberation Sans" font-size="36" fill="#000">b</text>
<rect x="484.3" y="1806.7" width="264.4" height="402.2" fill="none" stroke="#0a0a0a" stroke-width="2.1"/>
<line x1="469.9" y1="2208.9" x2="484.3" y2="2208.9" stroke="#0a0a0a" stroke-width="2.1" />
<text x="464.2" y="2213.5" font-family="Liberation Sans" font-size="15" text-anchor="end" font-weight="bold" fill="#111" >0</text>
<line x1="469.9" y1="2141.9" x2="484.3" y2="2141.9" stroke="#0a0a0a" stroke-width="2.1" />
<text x="464.2" y="2146.5" font-family="Liberation Sans" font-size="15" text-anchor="end" font-weight="bold" fill="#111" >2</text>
<line x1="469.9" y1="2074.8" x2="484.3" y2="2074.8" stroke="#0a0a0a" stroke-width="2.1" />
<text x="464.2" y="2079.4" font-family="Liberation Sans" font-size="15" text-anchor="end" font-weight="bold" fill="#111" >4</text>
<line x1="469.9" y1="2007.8" x2="484.3" y2="2007.8" stroke="#0a0a0a" stroke-width="2.1" />
<text x="464.2" y="2012.4" font-family="Liberation Sans" font-size="15" text-anchor="end" font-weight="bold" fill="#111" >6</text>
<line x1="469.9" y1="1940.7" x2="484.3" y2="1940.7" stroke="#0a0a0a" stroke-width="2.1" />
<text x="464.2" y="1945.3" font-family="Liberation Sans" font-size="15" text-anchor="end" font-weight="bold" fill="#111" >8</text>
<line x1="469.9" y1="1873.7" x2="484.3" y2="1873.7" stroke="#0a0a0a" stroke-width="2.1" />
<text x="464.2" y="1878.3" font-family="Liberation Sans" font-size="15" text-anchor="end" font-weight="bold" fill="#111" >10</text>
<line x1="469.9" y1="1806.7" x2="484.3" y2="1806.7" stroke="#0a0a0a" stroke-width="2.1" />
<text x="464.2" y="1811.3" font-family="Liberation Sans" font-size="15" text-anchor="end" font-weight="bold" fill="#111" >12</text>
<text transform="translate(432.9 2012.4) rotate(-90)" font-family="Liberation Serif" font-size="18.1" text-anchor="middle" dominant-baseline="central" fill="#111">Expression −log<tspan font-size="11.8" dy="3.3">2</tspan><tspan dy="-3.3">(TPM+1)</tspan></text>
<line x1="560.1" y1="1860" x2="560.1" y2="2160.2" stroke="#000" stroke-width="2" />
<line x1="542.1" y1="1860" x2="578.6" y2="1860" stroke="#000" stroke-width="2.4" />
<line x1="542.1" y1="2160.2" x2="578.6" y2="2160.2" stroke="#000" stroke-width="2.4" />
<rect x="523.6" y="1900.4" width="74.2" height="171.8" fill="#fd6464" stroke="#0a0a0a" stroke-width="2"/>
<line x1="523.6" y1="1957.5" x2="597.8" y2="1957.5" stroke="#000" stroke-width="2" />
<path d="M559.7 1859.7h0M559.9 1867.4h0M560.3 1880.4h0M560.4 1882.7h0M560.4 1885h0M560.5 1888.1h0M559.8 1890.4h0M559.9 1904.2h0M560.1 1917.3h0M560.2 1921.9h0M559.9 1924.2h0M560.3 1932.6h0M559.9 1941.1h0M560.2 1946.5h0M560.2 1968.7h0M559.9 1984.1h0M560 2000.2h0M560.2 2016.4h0M560.1 2037.1h0M559.9 2047.1h0M560.5 2061.7h0M560 2067.8h0M560 2084.7h0M559.8 2098.5h0M560.5 2104.7h0M560.3 2123.1h0M560.2 2127h0M560.1 2142.3h0M559.9 2160h0" stroke="#000" stroke-width="5.6" stroke-linecap="round" fill="none"/>
<line x1="673.5" y1="2023.1" x2="673.5" y2="2208.9" stroke="#000" stroke-width="2" />
<line x1="655" y1="2023.1" x2="691.1" y2="2023.1" stroke="#000" stroke-width="2.4" />
<rect x="635.8" y="2187.2" width="75.4" height="21.7" fill="#7f7f7f" stroke="#0a0a0a" stroke-width="2"/>
<line x1="635.8" y1="2195.6" x2="711.2" y2="2195.6" stroke="#000" stroke-width="2" />
<path d="M673.1 2022.5h0M673.5 2094.7h0M673.8 2120.8h0M673.9 2154.6h0M673.2 2166.9h0M673.2 2175.4h0M673.2 2191.5h0M673.2 2194.6h0M673.7 2196.9h0M673.6 2199.2h0M673.8 2208.5h0" stroke="#000" stroke-width="5.6" stroke-linecap="round" fill="none"/>
<line x1="560.1" y1="2208.9" x2="560.1" y2="2215.4" stroke="#0a0a0a" stroke-width="2.1" />
<line x1="673.5" y1="2208.9" x2="673.5" y2="2215.4" stroke="#0a0a0a" stroke-width="2.1" />
<path d="M561.5 1847.8V1839.8H610.3 M627.9 1839.8H675.1V2005.5" stroke="#111" stroke-width="2" fill="none"/>
<path d="M619.1 1837.9L619.1 1848.7M614.4 1840.6L623.8 1846M614.4 1846L623.8 1840.6" stroke="#cc2228" stroke-width="1.6" stroke-linecap="round" fill="none"/>
<text x="609.4" y="2240.6" font-family="Liberation Serif" font-size="15.3" text-anchor="middle" font-weight="normal" fill="#111" >OSCC</text><text x="609.4" y="2258.7" font-family="Liberation Serif" font-size="15.3" text-anchor="middle" font-weight="normal" fill="#111" >(num(T)=30; num(N)=26)</text>
<rect x="387.4" y="2317.4" width="34.9" height="33.1" fill="#fd6464"/>
<text x="435.5" y="2340.8" font-family="Liberation Serif" font-size="31" text-anchor="start" font-weight="normal" fill="#111" >Tumor</text>
<rect x="553.9" y="2316.6" width="34.9" height="31.7" fill="#7f7f7f"/>
<text x="598.5" y="2339.7" font-family="Liberation Serif" font-size="30.3" text-anchor="start" font-weight="normal" fill="#111" >Adj.Normal</text>
<text x="986" y="2340.5" font-family="Liberation Serif" font-size="31" text-anchor="start" font-weight="normal" fill="#d42020" >*</text>
<text x="999" y="2339.5" font-family="Liberation Serif" font-size="31" text-anchor="start" font-weight="normal" fill="#111" >p-value= ≤0.05</text>
</svg>
</body></html>
